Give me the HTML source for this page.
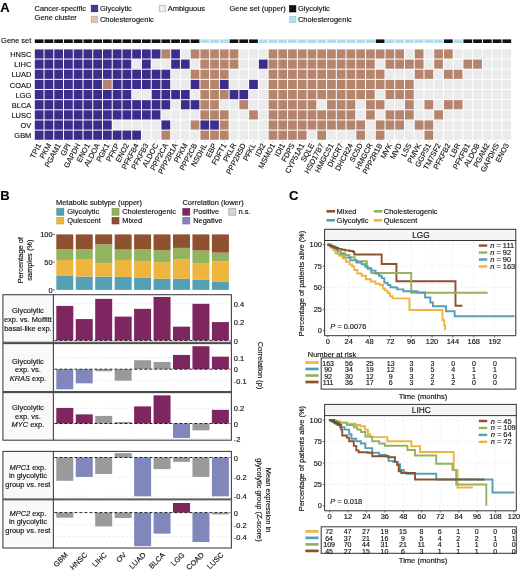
<!DOCTYPE html>
<html><head><meta charset="utf-8"><title>Figure</title>
<style>
html,body{margin:0;padding:0;background:#fff;width:520px;height:571px;overflow:hidden;}
svg{display:block;font-family:"Liberation Sans", sans-serif;will-change:transform;}
text{stroke:currentColor;stroke-width:0.15px;}
</style></head><body>
<svg width="520" height="571" viewBox="0 0 520 571" font-size="7.45" fill="#1a1a1a">
<rect width="520" height="571" fill="#fff"/>
<text x="0.20" y="11.50" font-size="13" font-weight="bold" fill="#000">A</text>
<text x="34.60" y="11.00">Cancer-specific</text>
<text x="34.60" y="20.00">Gene cluster</text>
<rect x="91.30" y="5.30" width="6.40" height="6.40" fill="#463a98" stroke="#2c2278" stroke-width="0.8"/>
<text x="100.00" y="10.90">Glycolytic</text>
<rect x="91.30" y="16.30" width="6.40" height="6.40" fill="#dec3b7" stroke="#c8a898" stroke-width="0.8"/>
<text x="100.00" y="21.90">Cholesterogenic</text>
<rect x="159.20" y="5.30" width="6.40" height="6.40" fill="#eeeeee" stroke="#b8b8b8" stroke-width="0.8"/>
<text x="167.80" y="10.90">Ambiguous</text>
<text x="229.50" y="10.90">Gene set (upper)</text>
<rect x="289.50" y="5.60" width="6.40" height="6.40" fill="#111111" stroke="#000" stroke-width="0.6"/>
<text x="298.00" y="10.90">Glycolytic</text>
<rect x="289.50" y="16.30" width="6.40" height="6.40" fill="#b4e0ee" stroke="#8cc8dc" stroke-width="0.6"/>
<text x="298.00" y="21.90">Cholesterogenic</text>
<text x="31.30" y="43.40" text-anchor="end">Gene set</text>
<rect x="34.80" y="39.40" width="8.74" height="3.60" fill="#111111"/>
<rect x="44.54" y="39.40" width="8.74" height="3.60" fill="#111111"/>
<rect x="54.28" y="39.40" width="8.74" height="3.60" fill="#111111"/>
<rect x="64.03" y="39.40" width="8.74" height="3.60" fill="#111111"/>
<rect x="73.77" y="39.40" width="8.74" height="3.60" fill="#111111"/>
<rect x="83.51" y="39.40" width="8.74" height="3.60" fill="#111111"/>
<rect x="93.25" y="39.40" width="8.74" height="3.60" fill="#111111"/>
<rect x="102.99" y="39.40" width="8.74" height="3.60" fill="#111111"/>
<rect x="112.74" y="39.40" width="8.74" height="3.60" fill="#111111"/>
<rect x="122.48" y="39.40" width="8.74" height="3.60" fill="#111111"/>
<rect x="132.22" y="39.40" width="8.74" height="3.60" fill="#111111"/>
<rect x="141.96" y="39.40" width="8.74" height="3.60" fill="#111111"/>
<rect x="151.70" y="39.40" width="8.74" height="3.60" fill="#111111"/>
<rect x="161.45" y="39.40" width="8.74" height="3.60" fill="#111111"/>
<rect x="171.19" y="39.40" width="8.74" height="3.60" fill="#111111"/>
<rect x="180.93" y="39.40" width="8.74" height="3.60" fill="#111111"/>
<rect x="190.67" y="39.40" width="8.74" height="3.60" fill="#111111"/>
<rect x="200.41" y="39.40" width="8.74" height="3.60" fill="#b0dcec"/>
<rect x="210.16" y="39.40" width="8.74" height="3.60" fill="#b0dcec"/>
<rect x="219.90" y="39.40" width="8.74" height="3.60" fill="#b0dcec"/>
<rect x="229.64" y="39.40" width="8.74" height="3.60" fill="#111111"/>
<rect x="239.38" y="39.40" width="8.74" height="3.60" fill="#111111"/>
<rect x="249.12" y="39.40" width="8.74" height="3.60" fill="#111111"/>
<rect x="258.87" y="39.40" width="8.74" height="3.60" fill="#b0dcec"/>
<rect x="268.61" y="39.40" width="8.74" height="3.60" fill="#b0dcec"/>
<rect x="278.35" y="39.40" width="8.74" height="3.60" fill="#b0dcec"/>
<rect x="288.09" y="39.40" width="8.74" height="3.60" fill="#b0dcec"/>
<rect x="297.83" y="39.40" width="8.74" height="3.60" fill="#b0dcec"/>
<rect x="307.58" y="39.40" width="8.74" height="3.60" fill="#b0dcec"/>
<rect x="317.32" y="39.40" width="8.74" height="3.60" fill="#b0dcec"/>
<rect x="327.06" y="39.40" width="8.74" height="3.60" fill="#b0dcec"/>
<rect x="336.80" y="39.40" width="8.74" height="3.60" fill="#b0dcec"/>
<rect x="346.54" y="39.40" width="8.74" height="3.60" fill="#b0dcec"/>
<rect x="356.29" y="39.40" width="8.74" height="3.60" fill="#b0dcec"/>
<rect x="366.03" y="39.40" width="8.74" height="3.60" fill="#b0dcec"/>
<rect x="375.77" y="39.40" width="8.74" height="3.60" fill="#111111"/>
<rect x="385.51" y="39.40" width="8.74" height="3.60" fill="#b0dcec"/>
<rect x="395.25" y="39.40" width="8.74" height="3.60" fill="#b0dcec"/>
<rect x="405.00" y="39.40" width="8.74" height="3.60" fill="#b0dcec"/>
<rect x="414.74" y="39.40" width="8.74" height="3.60" fill="#b0dcec"/>
<rect x="424.48" y="39.40" width="8.74" height="3.60" fill="#b0dcec"/>
<rect x="434.22" y="39.40" width="8.74" height="3.60" fill="#b0dcec"/>
<rect x="443.96" y="39.40" width="8.74" height="3.60" fill="#111111"/>
<rect x="453.71" y="39.40" width="8.74" height="3.60" fill="#b0dcec"/>
<rect x="463.45" y="39.40" width="8.74" height="3.60" fill="#111111"/>
<rect x="473.19" y="39.40" width="8.74" height="3.60" fill="#111111"/>
<rect x="482.93" y="39.40" width="8.74" height="3.60" fill="#111111"/>
<rect x="492.67" y="39.40" width="8.74" height="3.60" fill="#111111"/>
<rect x="502.42" y="39.40" width="8.74" height="3.60" fill="#111111"/>
<text x="31.30" y="57.10" text-anchor="end">HNSC</text>
<rect x="34.80" y="49.40" width="8.74" height="9.15" fill="#3a2d8c"/>
<rect x="44.54" y="49.40" width="8.74" height="9.15" fill="#3a2d8c"/>
<rect x="54.28" y="49.40" width="8.74" height="9.15" fill="#3a2d8c"/>
<rect x="64.03" y="49.40" width="8.74" height="9.15" fill="#3a2d8c"/>
<rect x="73.77" y="49.40" width="8.74" height="9.15" fill="#3a2d8c"/>
<rect x="83.51" y="49.40" width="8.74" height="9.15" fill="#3a2d8c"/>
<rect x="93.25" y="49.40" width="8.74" height="9.15" fill="#3a2d8c"/>
<rect x="102.99" y="49.40" width="8.74" height="9.15" fill="#3a2d8c"/>
<rect x="112.74" y="49.40" width="8.74" height="9.15" fill="#3a2d8c"/>
<rect x="122.48" y="49.40" width="8.74" height="9.15" fill="#3a2d8c"/>
<rect x="132.22" y="49.40" width="8.74" height="9.15" fill="#3a2d8c"/>
<rect x="141.96" y="49.40" width="8.74" height="9.15" fill="#3a2d8c"/>
<rect x="151.70" y="49.40" width="8.74" height="9.15" fill="#3a2d8c"/>
<rect x="161.45" y="49.40" width="8.74" height="9.15" fill="#b5846d"/>
<rect x="171.19" y="49.40" width="8.74" height="9.15" fill="#3a2d8c"/>
<rect x="180.93" y="49.40" width="8.74" height="9.15" fill="#ebebeb"/>
<rect x="190.67" y="49.40" width="8.74" height="9.15" fill="#b5846d"/>
<rect x="200.41" y="49.40" width="8.74" height="9.15" fill="#b5846d"/>
<rect x="210.16" y="49.40" width="8.74" height="9.15" fill="#b5846d"/>
<rect x="219.90" y="49.40" width="8.74" height="9.15" fill="#b5846d"/>
<rect x="229.64" y="49.40" width="8.74" height="9.15" fill="#b5846d"/>
<rect x="239.38" y="49.40" width="8.74" height="9.15" fill="#ebebeb"/>
<rect x="249.12" y="49.40" width="8.74" height="9.15" fill="#ebebeb"/>
<rect x="258.87" y="49.40" width="8.74" height="9.15" fill="#ebebeb"/>
<rect x="268.61" y="49.40" width="8.74" height="9.15" fill="#b5846d"/>
<rect x="278.35" y="49.40" width="8.74" height="9.15" fill="#b5846d"/>
<rect x="288.09" y="49.40" width="8.74" height="9.15" fill="#b5846d"/>
<rect x="297.83" y="49.40" width="8.74" height="9.15" fill="#b5846d"/>
<rect x="307.58" y="49.40" width="8.74" height="9.15" fill="#b5846d"/>
<rect x="317.32" y="49.40" width="8.74" height="9.15" fill="#b5846d"/>
<rect x="327.06" y="49.40" width="8.74" height="9.15" fill="#b5846d"/>
<rect x="336.80" y="49.40" width="8.74" height="9.15" fill="#b5846d"/>
<rect x="346.54" y="49.40" width="8.74" height="9.15" fill="#b5846d"/>
<rect x="356.29" y="49.40" width="8.74" height="9.15" fill="#b5846d"/>
<rect x="366.03" y="49.40" width="8.74" height="9.15" fill="#b5846d"/>
<rect x="375.77" y="49.40" width="8.74" height="9.15" fill="#b5846d"/>
<rect x="385.51" y="49.40" width="8.74" height="9.15" fill="#b5846d"/>
<rect x="395.25" y="49.40" width="8.74" height="9.15" fill="#b5846d"/>
<rect x="405.00" y="49.40" width="8.74" height="9.15" fill="#ebebeb"/>
<rect x="414.74" y="49.40" width="8.74" height="9.15" fill="#b5846d"/>
<rect x="424.48" y="49.40" width="8.74" height="9.15" fill="#ebebeb"/>
<rect x="434.22" y="49.40" width="8.74" height="9.15" fill="#b5846d"/>
<rect x="443.96" y="49.40" width="8.74" height="9.15" fill="#b5846d"/>
<rect x="453.71" y="49.40" width="8.74" height="9.15" fill="#ebebeb"/>
<rect x="463.45" y="49.40" width="8.74" height="9.15" fill="#ebebeb"/>
<rect x="473.19" y="49.40" width="8.74" height="9.15" fill="#ebebeb"/>
<rect x="482.93" y="49.40" width="8.74" height="9.15" fill="#ebebeb"/>
<rect x="492.67" y="49.40" width="8.74" height="9.15" fill="#ebebeb"/>
<rect x="502.42" y="49.40" width="8.74" height="9.15" fill="#ebebeb"/>
<text x="31.30" y="67.25" text-anchor="end">LIHC</text>
<rect x="34.80" y="59.55" width="8.74" height="9.15" fill="#3a2d8c"/>
<rect x="44.54" y="59.55" width="8.74" height="9.15" fill="#3a2d8c"/>
<rect x="54.28" y="59.55" width="8.74" height="9.15" fill="#3a2d8c"/>
<rect x="64.03" y="59.55" width="8.74" height="9.15" fill="#3a2d8c"/>
<rect x="73.77" y="59.55" width="8.74" height="9.15" fill="#3a2d8c"/>
<rect x="83.51" y="59.55" width="8.74" height="9.15" fill="#3a2d8c"/>
<rect x="93.25" y="59.55" width="8.74" height="9.15" fill="#3a2d8c"/>
<rect x="102.99" y="59.55" width="8.74" height="9.15" fill="#3a2d8c"/>
<rect x="112.74" y="59.55" width="8.74" height="9.15" fill="#3a2d8c"/>
<rect x="122.48" y="59.55" width="8.74" height="9.15" fill="#3a2d8c"/>
<rect x="132.22" y="59.55" width="8.74" height="9.15" fill="#ebebeb"/>
<rect x="141.96" y="59.55" width="8.74" height="9.15" fill="#3a2d8c"/>
<rect x="151.70" y="59.55" width="8.74" height="9.15" fill="#ebebeb"/>
<rect x="161.45" y="59.55" width="8.74" height="9.15" fill="#ebebeb"/>
<rect x="171.19" y="59.55" width="8.74" height="9.15" fill="#3a2d8c"/>
<rect x="180.93" y="59.55" width="8.74" height="9.15" fill="#3a2d8c"/>
<rect x="190.67" y="59.55" width="8.74" height="9.15" fill="#ebebeb"/>
<rect x="200.41" y="59.55" width="8.74" height="9.15" fill="#b5846d"/>
<rect x="210.16" y="59.55" width="8.74" height="9.15" fill="#b5846d"/>
<rect x="219.90" y="59.55" width="8.74" height="9.15" fill="#b5846d"/>
<rect x="229.64" y="59.55" width="8.74" height="9.15" fill="#b5846d"/>
<rect x="239.38" y="59.55" width="8.74" height="9.15" fill="#ebebeb"/>
<rect x="249.12" y="59.55" width="8.74" height="9.15" fill="#ebebeb"/>
<rect x="258.87" y="59.55" width="8.74" height="9.15" fill="#3a2d8c"/>
<rect x="268.61" y="59.55" width="8.74" height="9.15" fill="#b5846d"/>
<rect x="278.35" y="59.55" width="8.74" height="9.15" fill="#b5846d"/>
<rect x="288.09" y="59.55" width="8.74" height="9.15" fill="#b5846d"/>
<rect x="297.83" y="59.55" width="8.74" height="9.15" fill="#b5846d"/>
<rect x="307.58" y="59.55" width="8.74" height="9.15" fill="#b5846d"/>
<rect x="317.32" y="59.55" width="8.74" height="9.15" fill="#b5846d"/>
<rect x="327.06" y="59.55" width="8.74" height="9.15" fill="#b5846d"/>
<rect x="336.80" y="59.55" width="8.74" height="9.15" fill="#b5846d"/>
<rect x="346.54" y="59.55" width="8.74" height="9.15" fill="#b5846d"/>
<rect x="356.29" y="59.55" width="8.74" height="9.15" fill="#b5846d"/>
<rect x="366.03" y="59.55" width="8.74" height="9.15" fill="#b5846d"/>
<rect x="375.77" y="59.55" width="8.74" height="9.15" fill="#ebebeb"/>
<rect x="385.51" y="59.55" width="8.74" height="9.15" fill="#b5846d"/>
<rect x="395.25" y="59.55" width="8.74" height="9.15" fill="#b5846d"/>
<rect x="405.00" y="59.55" width="8.74" height="9.15" fill="#b5846d"/>
<rect x="414.74" y="59.55" width="8.74" height="9.15" fill="#b5846d"/>
<rect x="424.48" y="59.55" width="8.74" height="9.15" fill="#ebebeb"/>
<rect x="434.22" y="59.55" width="8.74" height="9.15" fill="#b5846d"/>
<rect x="443.96" y="59.55" width="8.74" height="9.15" fill="#ebebeb"/>
<rect x="453.71" y="59.55" width="8.74" height="9.15" fill="#ebebeb"/>
<rect x="463.45" y="59.55" width="8.74" height="9.15" fill="#b5846d"/>
<rect x="473.19" y="59.55" width="8.74" height="9.15" fill="#b5846d"/>
<rect x="482.93" y="59.55" width="8.74" height="9.15" fill="#ebebeb"/>
<rect x="492.67" y="59.55" width="8.74" height="9.15" fill="#ebebeb"/>
<rect x="502.42" y="59.55" width="8.74" height="9.15" fill="#ebebeb"/>
<text x="31.30" y="77.40" text-anchor="end">LUAD</text>
<rect x="34.80" y="69.70" width="8.74" height="9.15" fill="#3a2d8c"/>
<rect x="44.54" y="69.70" width="8.74" height="9.15" fill="#3a2d8c"/>
<rect x="54.28" y="69.70" width="8.74" height="9.15" fill="#3a2d8c"/>
<rect x="64.03" y="69.70" width="8.74" height="9.15" fill="#3a2d8c"/>
<rect x="73.77" y="69.70" width="8.74" height="9.15" fill="#3a2d8c"/>
<rect x="83.51" y="69.70" width="8.74" height="9.15" fill="#3a2d8c"/>
<rect x="93.25" y="69.70" width="8.74" height="9.15" fill="#3a2d8c"/>
<rect x="102.99" y="69.70" width="8.74" height="9.15" fill="#3a2d8c"/>
<rect x="112.74" y="69.70" width="8.74" height="9.15" fill="#3a2d8c"/>
<rect x="122.48" y="69.70" width="8.74" height="9.15" fill="#3a2d8c"/>
<rect x="132.22" y="69.70" width="8.74" height="9.15" fill="#3a2d8c"/>
<rect x="141.96" y="69.70" width="8.74" height="9.15" fill="#3a2d8c"/>
<rect x="151.70" y="69.70" width="8.74" height="9.15" fill="#3a2d8c"/>
<rect x="161.45" y="69.70" width="8.74" height="9.15" fill="#3a2d8c"/>
<rect x="171.19" y="69.70" width="8.74" height="9.15" fill="#ebebeb"/>
<rect x="180.93" y="69.70" width="8.74" height="9.15" fill="#ebebeb"/>
<rect x="190.67" y="69.70" width="8.74" height="9.15" fill="#b5846d"/>
<rect x="200.41" y="69.70" width="8.74" height="9.15" fill="#b5846d"/>
<rect x="210.16" y="69.70" width="8.74" height="9.15" fill="#b5846d"/>
<rect x="219.90" y="69.70" width="8.74" height="9.15" fill="#b5846d"/>
<rect x="229.64" y="69.70" width="8.74" height="9.15" fill="#ebebeb"/>
<rect x="239.38" y="69.70" width="8.74" height="9.15" fill="#ebebeb"/>
<rect x="249.12" y="69.70" width="8.74" height="9.15" fill="#ebebeb"/>
<rect x="258.87" y="69.70" width="8.74" height="9.15" fill="#ebebeb"/>
<rect x="268.61" y="69.70" width="8.74" height="9.15" fill="#b5846d"/>
<rect x="278.35" y="69.70" width="8.74" height="9.15" fill="#b5846d"/>
<rect x="288.09" y="69.70" width="8.74" height="9.15" fill="#b5846d"/>
<rect x="297.83" y="69.70" width="8.74" height="9.15" fill="#b5846d"/>
<rect x="307.58" y="69.70" width="8.74" height="9.15" fill="#b5846d"/>
<rect x="317.32" y="69.70" width="8.74" height="9.15" fill="#b5846d"/>
<rect x="327.06" y="69.70" width="8.74" height="9.15" fill="#b5846d"/>
<rect x="336.80" y="69.70" width="8.74" height="9.15" fill="#b5846d"/>
<rect x="346.54" y="69.70" width="8.74" height="9.15" fill="#b5846d"/>
<rect x="356.29" y="69.70" width="8.74" height="9.15" fill="#b5846d"/>
<rect x="366.03" y="69.70" width="8.74" height="9.15" fill="#b5846d"/>
<rect x="375.77" y="69.70" width="8.74" height="9.15" fill="#b5846d"/>
<rect x="385.51" y="69.70" width="8.74" height="9.15" fill="#ebebeb"/>
<rect x="395.25" y="69.70" width="8.74" height="9.15" fill="#ebebeb"/>
<rect x="405.00" y="69.70" width="8.74" height="9.15" fill="#ebebeb"/>
<rect x="414.74" y="69.70" width="8.74" height="9.15" fill="#b5846d"/>
<rect x="424.48" y="69.70" width="8.74" height="9.15" fill="#b5846d"/>
<rect x="434.22" y="69.70" width="8.74" height="9.15" fill="#ebebeb"/>
<rect x="443.96" y="69.70" width="8.74" height="9.15" fill="#b5846d"/>
<rect x="453.71" y="69.70" width="8.74" height="9.15" fill="#b5846d"/>
<rect x="463.45" y="69.70" width="8.74" height="9.15" fill="#ebebeb"/>
<rect x="473.19" y="69.70" width="8.74" height="9.15" fill="#ebebeb"/>
<rect x="482.93" y="69.70" width="8.74" height="9.15" fill="#ebebeb"/>
<rect x="492.67" y="69.70" width="8.74" height="9.15" fill="#ebebeb"/>
<rect x="502.42" y="69.70" width="8.74" height="9.15" fill="#ebebeb"/>
<text x="31.30" y="87.55" text-anchor="end">COAD</text>
<rect x="34.80" y="79.85" width="8.74" height="9.15" fill="#3a2d8c"/>
<rect x="44.54" y="79.85" width="8.74" height="9.15" fill="#3a2d8c"/>
<rect x="54.28" y="79.85" width="8.74" height="9.15" fill="#3a2d8c"/>
<rect x="64.03" y="79.85" width="8.74" height="9.15" fill="#3a2d8c"/>
<rect x="73.77" y="79.85" width="8.74" height="9.15" fill="#3a2d8c"/>
<rect x="83.51" y="79.85" width="8.74" height="9.15" fill="#3a2d8c"/>
<rect x="93.25" y="79.85" width="8.74" height="9.15" fill="#3a2d8c"/>
<rect x="102.99" y="79.85" width="8.74" height="9.15" fill="#b5846d"/>
<rect x="112.74" y="79.85" width="8.74" height="9.15" fill="#3a2d8c"/>
<rect x="122.48" y="79.85" width="8.74" height="9.15" fill="#3a2d8c"/>
<rect x="132.22" y="79.85" width="8.74" height="9.15" fill="#3a2d8c"/>
<rect x="141.96" y="79.85" width="8.74" height="9.15" fill="#3a2d8c"/>
<rect x="151.70" y="79.85" width="8.74" height="9.15" fill="#3a2d8c"/>
<rect x="161.45" y="79.85" width="8.74" height="9.15" fill="#3a2d8c"/>
<rect x="171.19" y="79.85" width="8.74" height="9.15" fill="#ebebeb"/>
<rect x="180.93" y="79.85" width="8.74" height="9.15" fill="#ebebeb"/>
<rect x="190.67" y="79.85" width="8.74" height="9.15" fill="#3a2d8c"/>
<rect x="200.41" y="79.85" width="8.74" height="9.15" fill="#b5846d"/>
<rect x="210.16" y="79.85" width="8.74" height="9.15" fill="#b5846d"/>
<rect x="219.90" y="79.85" width="8.74" height="9.15" fill="#3a2d8c"/>
<rect x="229.64" y="79.85" width="8.74" height="9.15" fill="#ebebeb"/>
<rect x="239.38" y="79.85" width="8.74" height="9.15" fill="#ebebeb"/>
<rect x="249.12" y="79.85" width="8.74" height="9.15" fill="#3a2d8c"/>
<rect x="258.87" y="79.85" width="8.74" height="9.15" fill="#ebebeb"/>
<rect x="268.61" y="79.85" width="8.74" height="9.15" fill="#b5846d"/>
<rect x="278.35" y="79.85" width="8.74" height="9.15" fill="#b5846d"/>
<rect x="288.09" y="79.85" width="8.74" height="9.15" fill="#b5846d"/>
<rect x="297.83" y="79.85" width="8.74" height="9.15" fill="#b5846d"/>
<rect x="307.58" y="79.85" width="8.74" height="9.15" fill="#b5846d"/>
<rect x="317.32" y="79.85" width="8.74" height="9.15" fill="#b5846d"/>
<rect x="327.06" y="79.85" width="8.74" height="9.15" fill="#b5846d"/>
<rect x="336.80" y="79.85" width="8.74" height="9.15" fill="#b5846d"/>
<rect x="346.54" y="79.85" width="8.74" height="9.15" fill="#b5846d"/>
<rect x="356.29" y="79.85" width="8.74" height="9.15" fill="#b5846d"/>
<rect x="366.03" y="79.85" width="8.74" height="9.15" fill="#b5846d"/>
<rect x="375.77" y="79.85" width="8.74" height="9.15" fill="#b5846d"/>
<rect x="385.51" y="79.85" width="8.74" height="9.15" fill="#b5846d"/>
<rect x="395.25" y="79.85" width="8.74" height="9.15" fill="#b5846d"/>
<rect x="405.00" y="79.85" width="8.74" height="9.15" fill="#b5846d"/>
<rect x="414.74" y="79.85" width="8.74" height="9.15" fill="#ebebeb"/>
<rect x="424.48" y="79.85" width="8.74" height="9.15" fill="#ebebeb"/>
<rect x="434.22" y="79.85" width="8.74" height="9.15" fill="#ebebeb"/>
<rect x="443.96" y="79.85" width="8.74" height="9.15" fill="#ebebeb"/>
<rect x="453.71" y="79.85" width="8.74" height="9.15" fill="#ebebeb"/>
<rect x="463.45" y="79.85" width="8.74" height="9.15" fill="#ebebeb"/>
<rect x="473.19" y="79.85" width="8.74" height="9.15" fill="#ebebeb"/>
<rect x="482.93" y="79.85" width="8.74" height="9.15" fill="#ebebeb"/>
<rect x="492.67" y="79.85" width="8.74" height="9.15" fill="#ebebeb"/>
<rect x="502.42" y="79.85" width="8.74" height="9.15" fill="#ebebeb"/>
<text x="31.30" y="97.70" text-anchor="end">LGG</text>
<rect x="34.80" y="90.00" width="8.74" height="9.15" fill="#3a2d8c"/>
<rect x="44.54" y="90.00" width="8.74" height="9.15" fill="#3a2d8c"/>
<rect x="54.28" y="90.00" width="8.74" height="9.15" fill="#3a2d8c"/>
<rect x="64.03" y="90.00" width="8.74" height="9.15" fill="#3a2d8c"/>
<rect x="73.77" y="90.00" width="8.74" height="9.15" fill="#3a2d8c"/>
<rect x="83.51" y="90.00" width="8.74" height="9.15" fill="#3a2d8c"/>
<rect x="93.25" y="90.00" width="8.74" height="9.15" fill="#3a2d8c"/>
<rect x="102.99" y="90.00" width="8.74" height="9.15" fill="#3a2d8c"/>
<rect x="112.74" y="90.00" width="8.74" height="9.15" fill="#3a2d8c"/>
<rect x="122.48" y="90.00" width="8.74" height="9.15" fill="#3a2d8c"/>
<rect x="132.22" y="90.00" width="8.74" height="9.15" fill="#ebebeb"/>
<rect x="141.96" y="90.00" width="8.74" height="9.15" fill="#ebebeb"/>
<rect x="151.70" y="90.00" width="8.74" height="9.15" fill="#3a2d8c"/>
<rect x="161.45" y="90.00" width="8.74" height="9.15" fill="#3a2d8c"/>
<rect x="171.19" y="90.00" width="8.74" height="9.15" fill="#3a2d8c"/>
<rect x="180.93" y="90.00" width="8.74" height="9.15" fill="#3a2d8c"/>
<rect x="190.67" y="90.00" width="8.74" height="9.15" fill="#ebebeb"/>
<rect x="200.41" y="90.00" width="8.74" height="9.15" fill="#b5846d"/>
<rect x="210.16" y="90.00" width="8.74" height="9.15" fill="#b5846d"/>
<rect x="219.90" y="90.00" width="8.74" height="9.15" fill="#b5846d"/>
<rect x="229.64" y="90.00" width="8.74" height="9.15" fill="#3a2d8c"/>
<rect x="239.38" y="90.00" width="8.74" height="9.15" fill="#3a2d8c"/>
<rect x="249.12" y="90.00" width="8.74" height="9.15" fill="#ebebeb"/>
<rect x="258.87" y="90.00" width="8.74" height="9.15" fill="#ebebeb"/>
<rect x="268.61" y="90.00" width="8.74" height="9.15" fill="#b5846d"/>
<rect x="278.35" y="90.00" width="8.74" height="9.15" fill="#b5846d"/>
<rect x="288.09" y="90.00" width="8.74" height="9.15" fill="#b5846d"/>
<rect x="297.83" y="90.00" width="8.74" height="9.15" fill="#b5846d"/>
<rect x="307.58" y="90.00" width="8.74" height="9.15" fill="#b5846d"/>
<rect x="317.32" y="90.00" width="8.74" height="9.15" fill="#b5846d"/>
<rect x="327.06" y="90.00" width="8.74" height="9.15" fill="#b5846d"/>
<rect x="336.80" y="90.00" width="8.74" height="9.15" fill="#b5846d"/>
<rect x="346.54" y="90.00" width="8.74" height="9.15" fill="#b5846d"/>
<rect x="356.29" y="90.00" width="8.74" height="9.15" fill="#b5846d"/>
<rect x="366.03" y="90.00" width="8.74" height="9.15" fill="#b5846d"/>
<rect x="375.77" y="90.00" width="8.74" height="9.15" fill="#ebebeb"/>
<rect x="385.51" y="90.00" width="8.74" height="9.15" fill="#b5846d"/>
<rect x="395.25" y="90.00" width="8.74" height="9.15" fill="#b5846d"/>
<rect x="405.00" y="90.00" width="8.74" height="9.15" fill="#b5846d"/>
<rect x="414.74" y="90.00" width="8.74" height="9.15" fill="#ebebeb"/>
<rect x="424.48" y="90.00" width="8.74" height="9.15" fill="#ebebeb"/>
<rect x="434.22" y="90.00" width="8.74" height="9.15" fill="#ebebeb"/>
<rect x="443.96" y="90.00" width="8.74" height="9.15" fill="#ebebeb"/>
<rect x="453.71" y="90.00" width="8.74" height="9.15" fill="#ebebeb"/>
<rect x="463.45" y="90.00" width="8.74" height="9.15" fill="#ebebeb"/>
<rect x="473.19" y="90.00" width="8.74" height="9.15" fill="#ebebeb"/>
<rect x="482.93" y="90.00" width="8.74" height="9.15" fill="#ebebeb"/>
<rect x="492.67" y="90.00" width="8.74" height="9.15" fill="#ebebeb"/>
<rect x="502.42" y="90.00" width="8.74" height="9.15" fill="#ebebeb"/>
<text x="31.30" y="107.85" text-anchor="end">BLCA</text>
<rect x="34.80" y="100.15" width="8.74" height="9.15" fill="#3a2d8c"/>
<rect x="44.54" y="100.15" width="8.74" height="9.15" fill="#3a2d8c"/>
<rect x="54.28" y="100.15" width="8.74" height="9.15" fill="#3a2d8c"/>
<rect x="64.03" y="100.15" width="8.74" height="9.15" fill="#3a2d8c"/>
<rect x="73.77" y="100.15" width="8.74" height="9.15" fill="#3a2d8c"/>
<rect x="83.51" y="100.15" width="8.74" height="9.15" fill="#3a2d8c"/>
<rect x="93.25" y="100.15" width="8.74" height="9.15" fill="#3a2d8c"/>
<rect x="102.99" y="100.15" width="8.74" height="9.15" fill="#3a2d8c"/>
<rect x="112.74" y="100.15" width="8.74" height="9.15" fill="#3a2d8c"/>
<rect x="122.48" y="100.15" width="8.74" height="9.15" fill="#3a2d8c"/>
<rect x="132.22" y="100.15" width="8.74" height="9.15" fill="#3a2d8c"/>
<rect x="141.96" y="100.15" width="8.74" height="9.15" fill="#3a2d8c"/>
<rect x="151.70" y="100.15" width="8.74" height="9.15" fill="#3a2d8c"/>
<rect x="161.45" y="100.15" width="8.74" height="9.15" fill="#3a2d8c"/>
<rect x="171.19" y="100.15" width="8.74" height="9.15" fill="#ebebeb"/>
<rect x="180.93" y="100.15" width="8.74" height="9.15" fill="#3a2d8c"/>
<rect x="190.67" y="100.15" width="8.74" height="9.15" fill="#3a2d8c"/>
<rect x="200.41" y="100.15" width="8.74" height="9.15" fill="#b5846d"/>
<rect x="210.16" y="100.15" width="8.74" height="9.15" fill="#b5846d"/>
<rect x="219.90" y="100.15" width="8.74" height="9.15" fill="#ebebeb"/>
<rect x="229.64" y="100.15" width="8.74" height="9.15" fill="#ebebeb"/>
<rect x="239.38" y="100.15" width="8.74" height="9.15" fill="#b5846d"/>
<rect x="249.12" y="100.15" width="8.74" height="9.15" fill="#ebebeb"/>
<rect x="258.87" y="100.15" width="8.74" height="9.15" fill="#ebebeb"/>
<rect x="268.61" y="100.15" width="8.74" height="9.15" fill="#b5846d"/>
<rect x="278.35" y="100.15" width="8.74" height="9.15" fill="#b5846d"/>
<rect x="288.09" y="100.15" width="8.74" height="9.15" fill="#b5846d"/>
<rect x="297.83" y="100.15" width="8.74" height="9.15" fill="#b5846d"/>
<rect x="307.58" y="100.15" width="8.74" height="9.15" fill="#b5846d"/>
<rect x="317.32" y="100.15" width="8.74" height="9.15" fill="#ebebeb"/>
<rect x="327.06" y="100.15" width="8.74" height="9.15" fill="#b5846d"/>
<rect x="336.80" y="100.15" width="8.74" height="9.15" fill="#b5846d"/>
<rect x="346.54" y="100.15" width="8.74" height="9.15" fill="#b5846d"/>
<rect x="356.29" y="100.15" width="8.74" height="9.15" fill="#ebebeb"/>
<rect x="366.03" y="100.15" width="8.74" height="9.15" fill="#b5846d"/>
<rect x="375.77" y="100.15" width="8.74" height="9.15" fill="#b5846d"/>
<rect x="385.51" y="100.15" width="8.74" height="9.15" fill="#ebebeb"/>
<rect x="395.25" y="100.15" width="8.74" height="9.15" fill="#ebebeb"/>
<rect x="405.00" y="100.15" width="8.74" height="9.15" fill="#b5846d"/>
<rect x="414.74" y="100.15" width="8.74" height="9.15" fill="#ebebeb"/>
<rect x="424.48" y="100.15" width="8.74" height="9.15" fill="#b5846d"/>
<rect x="434.22" y="100.15" width="8.74" height="9.15" fill="#ebebeb"/>
<rect x="443.96" y="100.15" width="8.74" height="9.15" fill="#b5846d"/>
<rect x="453.71" y="100.15" width="8.74" height="9.15" fill="#b5846d"/>
<rect x="463.45" y="100.15" width="8.74" height="9.15" fill="#ebebeb"/>
<rect x="473.19" y="100.15" width="8.74" height="9.15" fill="#ebebeb"/>
<rect x="482.93" y="100.15" width="8.74" height="9.15" fill="#ebebeb"/>
<rect x="492.67" y="100.15" width="8.74" height="9.15" fill="#ebebeb"/>
<rect x="502.42" y="100.15" width="8.74" height="9.15" fill="#ebebeb"/>
<text x="31.30" y="118.00" text-anchor="end">LUSC</text>
<rect x="34.80" y="110.30" width="8.74" height="9.15" fill="#3a2d8c"/>
<rect x="44.54" y="110.30" width="8.74" height="9.15" fill="#3a2d8c"/>
<rect x="54.28" y="110.30" width="8.74" height="9.15" fill="#3a2d8c"/>
<rect x="64.03" y="110.30" width="8.74" height="9.15" fill="#3a2d8c"/>
<rect x="73.77" y="110.30" width="8.74" height="9.15" fill="#3a2d8c"/>
<rect x="83.51" y="110.30" width="8.74" height="9.15" fill="#3a2d8c"/>
<rect x="93.25" y="110.30" width="8.74" height="9.15" fill="#3a2d8c"/>
<rect x="102.99" y="110.30" width="8.74" height="9.15" fill="#3a2d8c"/>
<rect x="112.74" y="110.30" width="8.74" height="9.15" fill="#3a2d8c"/>
<rect x="122.48" y="110.30" width="8.74" height="9.15" fill="#3a2d8c"/>
<rect x="132.22" y="110.30" width="8.74" height="9.15" fill="#3a2d8c"/>
<rect x="141.96" y="110.30" width="8.74" height="9.15" fill="#3a2d8c"/>
<rect x="151.70" y="110.30" width="8.74" height="9.15" fill="#3a2d8c"/>
<rect x="161.45" y="110.30" width="8.74" height="9.15" fill="#ebebeb"/>
<rect x="171.19" y="110.30" width="8.74" height="9.15" fill="#ebebeb"/>
<rect x="180.93" y="110.30" width="8.74" height="9.15" fill="#ebebeb"/>
<rect x="190.67" y="110.30" width="8.74" height="9.15" fill="#ebebeb"/>
<rect x="200.41" y="110.30" width="8.74" height="9.15" fill="#b5846d"/>
<rect x="210.16" y="110.30" width="8.74" height="9.15" fill="#b5846d"/>
<rect x="219.90" y="110.30" width="8.74" height="9.15" fill="#b5846d"/>
<rect x="229.64" y="110.30" width="8.74" height="9.15" fill="#ebebeb"/>
<rect x="239.38" y="110.30" width="8.74" height="9.15" fill="#ebebeb"/>
<rect x="249.12" y="110.30" width="8.74" height="9.15" fill="#b5846d"/>
<rect x="258.87" y="110.30" width="8.74" height="9.15" fill="#ebebeb"/>
<rect x="268.61" y="110.30" width="8.74" height="9.15" fill="#b5846d"/>
<rect x="278.35" y="110.30" width="8.74" height="9.15" fill="#b5846d"/>
<rect x="288.09" y="110.30" width="8.74" height="9.15" fill="#b5846d"/>
<rect x="297.83" y="110.30" width="8.74" height="9.15" fill="#b5846d"/>
<rect x="307.58" y="110.30" width="8.74" height="9.15" fill="#b5846d"/>
<rect x="317.32" y="110.30" width="8.74" height="9.15" fill="#b5846d"/>
<rect x="327.06" y="110.30" width="8.74" height="9.15" fill="#b5846d"/>
<rect x="336.80" y="110.30" width="8.74" height="9.15" fill="#b5846d"/>
<rect x="346.54" y="110.30" width="8.74" height="9.15" fill="#b5846d"/>
<rect x="356.29" y="110.30" width="8.74" height="9.15" fill="#ebebeb"/>
<rect x="366.03" y="110.30" width="8.74" height="9.15" fill="#b5846d"/>
<rect x="375.77" y="110.30" width="8.74" height="9.15" fill="#ebebeb"/>
<rect x="385.51" y="110.30" width="8.74" height="9.15" fill="#b5846d"/>
<rect x="395.25" y="110.30" width="8.74" height="9.15" fill="#b5846d"/>
<rect x="405.00" y="110.30" width="8.74" height="9.15" fill="#b5846d"/>
<rect x="414.74" y="110.30" width="8.74" height="9.15" fill="#ebebeb"/>
<rect x="424.48" y="110.30" width="8.74" height="9.15" fill="#ebebeb"/>
<rect x="434.22" y="110.30" width="8.74" height="9.15" fill="#b5846d"/>
<rect x="443.96" y="110.30" width="8.74" height="9.15" fill="#ebebeb"/>
<rect x="453.71" y="110.30" width="8.74" height="9.15" fill="#ebebeb"/>
<rect x="463.45" y="110.30" width="8.74" height="9.15" fill="#ebebeb"/>
<rect x="473.19" y="110.30" width="8.74" height="9.15" fill="#ebebeb"/>
<rect x="482.93" y="110.30" width="8.74" height="9.15" fill="#ebebeb"/>
<rect x="492.67" y="110.30" width="8.74" height="9.15" fill="#ebebeb"/>
<rect x="502.42" y="110.30" width="8.74" height="9.15" fill="#ebebeb"/>
<text x="31.30" y="128.15" text-anchor="end">OV</text>
<rect x="34.80" y="120.45" width="8.74" height="9.15" fill="#3a2d8c"/>
<rect x="44.54" y="120.45" width="8.74" height="9.15" fill="#3a2d8c"/>
<rect x="54.28" y="120.45" width="8.74" height="9.15" fill="#3a2d8c"/>
<rect x="64.03" y="120.45" width="8.74" height="9.15" fill="#3a2d8c"/>
<rect x="73.77" y="120.45" width="8.74" height="9.15" fill="#3a2d8c"/>
<rect x="83.51" y="120.45" width="8.74" height="9.15" fill="#3a2d8c"/>
<rect x="93.25" y="120.45" width="8.74" height="9.15" fill="#3a2d8c"/>
<rect x="102.99" y="120.45" width="8.74" height="9.15" fill="#3a2d8c"/>
<rect x="112.74" y="120.45" width="8.74" height="9.15" fill="#ebebeb"/>
<rect x="122.48" y="120.45" width="8.74" height="9.15" fill="#ebebeb"/>
<rect x="132.22" y="120.45" width="8.74" height="9.15" fill="#ebebeb"/>
<rect x="141.96" y="120.45" width="8.74" height="9.15" fill="#ebebeb"/>
<rect x="151.70" y="120.45" width="8.74" height="9.15" fill="#ebebeb"/>
<rect x="161.45" y="120.45" width="8.74" height="9.15" fill="#3a2d8c"/>
<rect x="171.19" y="120.45" width="8.74" height="9.15" fill="#ebebeb"/>
<rect x="180.93" y="120.45" width="8.74" height="9.15" fill="#ebebeb"/>
<rect x="190.67" y="120.45" width="8.74" height="9.15" fill="#b5846d"/>
<rect x="200.41" y="120.45" width="8.74" height="9.15" fill="#3a2d8c"/>
<rect x="210.16" y="120.45" width="8.74" height="9.15" fill="#3a2d8c"/>
<rect x="219.90" y="120.45" width="8.74" height="9.15" fill="#b5846d"/>
<rect x="229.64" y="120.45" width="8.74" height="9.15" fill="#ebebeb"/>
<rect x="239.38" y="120.45" width="8.74" height="9.15" fill="#ebebeb"/>
<rect x="249.12" y="120.45" width="8.74" height="9.15" fill="#ebebeb"/>
<rect x="258.87" y="120.45" width="8.74" height="9.15" fill="#ebebeb"/>
<rect x="268.61" y="120.45" width="8.74" height="9.15" fill="#b5846d"/>
<rect x="278.35" y="120.45" width="8.74" height="9.15" fill="#b5846d"/>
<rect x="288.09" y="120.45" width="8.74" height="9.15" fill="#b5846d"/>
<rect x="297.83" y="120.45" width="8.74" height="9.15" fill="#b5846d"/>
<rect x="307.58" y="120.45" width="8.74" height="9.15" fill="#b5846d"/>
<rect x="317.32" y="120.45" width="8.74" height="9.15" fill="#b5846d"/>
<rect x="327.06" y="120.45" width="8.74" height="9.15" fill="#b5846d"/>
<rect x="336.80" y="120.45" width="8.74" height="9.15" fill="#b5846d"/>
<rect x="346.54" y="120.45" width="8.74" height="9.15" fill="#b5846d"/>
<rect x="356.29" y="120.45" width="8.74" height="9.15" fill="#b5846d"/>
<rect x="366.03" y="120.45" width="8.74" height="9.15" fill="#ebebeb"/>
<rect x="375.77" y="120.45" width="8.74" height="9.15" fill="#b5846d"/>
<rect x="385.51" y="120.45" width="8.74" height="9.15" fill="#b5846d"/>
<rect x="395.25" y="120.45" width="8.74" height="9.15" fill="#b5846d"/>
<rect x="405.00" y="120.45" width="8.74" height="9.15" fill="#ebebeb"/>
<rect x="414.74" y="120.45" width="8.74" height="9.15" fill="#b5846d"/>
<rect x="424.48" y="120.45" width="8.74" height="9.15" fill="#b5846d"/>
<rect x="434.22" y="120.45" width="8.74" height="9.15" fill="#ebebeb"/>
<rect x="443.96" y="120.45" width="8.74" height="9.15" fill="#ebebeb"/>
<rect x="453.71" y="120.45" width="8.74" height="9.15" fill="#ebebeb"/>
<rect x="463.45" y="120.45" width="8.74" height="9.15" fill="#ebebeb"/>
<rect x="473.19" y="120.45" width="8.74" height="9.15" fill="#ebebeb"/>
<rect x="482.93" y="120.45" width="8.74" height="9.15" fill="#ebebeb"/>
<rect x="492.67" y="120.45" width="8.74" height="9.15" fill="#ebebeb"/>
<rect x="502.42" y="120.45" width="8.74" height="9.15" fill="#ebebeb"/>
<text x="31.30" y="138.30" text-anchor="end">GBM</text>
<rect x="34.80" y="130.60" width="8.74" height="9.15" fill="#3a2d8c"/>
<rect x="44.54" y="130.60" width="8.74" height="9.15" fill="#3a2d8c"/>
<rect x="54.28" y="130.60" width="8.74" height="9.15" fill="#3a2d8c"/>
<rect x="64.03" y="130.60" width="8.74" height="9.15" fill="#3a2d8c"/>
<rect x="73.77" y="130.60" width="8.74" height="9.15" fill="#3a2d8c"/>
<rect x="83.51" y="130.60" width="8.74" height="9.15" fill="#3a2d8c"/>
<rect x="93.25" y="130.60" width="8.74" height="9.15" fill="#3a2d8c"/>
<rect x="102.99" y="130.60" width="8.74" height="9.15" fill="#3a2d8c"/>
<rect x="112.74" y="130.60" width="8.74" height="9.15" fill="#3a2d8c"/>
<rect x="122.48" y="130.60" width="8.74" height="9.15" fill="#3a2d8c"/>
<rect x="132.22" y="130.60" width="8.74" height="9.15" fill="#3a2d8c"/>
<rect x="141.96" y="130.60" width="8.74" height="9.15" fill="#ebebeb"/>
<rect x="151.70" y="130.60" width="8.74" height="9.15" fill="#ebebeb"/>
<rect x="161.45" y="130.60" width="8.74" height="9.15" fill="#b5846d"/>
<rect x="171.19" y="130.60" width="8.74" height="9.15" fill="#ebebeb"/>
<rect x="180.93" y="130.60" width="8.74" height="9.15" fill="#ebebeb"/>
<rect x="190.67" y="130.60" width="8.74" height="9.15" fill="#ebebeb"/>
<rect x="200.41" y="130.60" width="8.74" height="9.15" fill="#b5846d"/>
<rect x="210.16" y="130.60" width="8.74" height="9.15" fill="#b5846d"/>
<rect x="219.90" y="130.60" width="8.74" height="9.15" fill="#b5846d"/>
<rect x="229.64" y="130.60" width="8.74" height="9.15" fill="#ebebeb"/>
<rect x="239.38" y="130.60" width="8.74" height="9.15" fill="#ebebeb"/>
<rect x="249.12" y="130.60" width="8.74" height="9.15" fill="#ebebeb"/>
<rect x="258.87" y="130.60" width="8.74" height="9.15" fill="#ebebeb"/>
<rect x="268.61" y="130.60" width="8.74" height="9.15" fill="#b5846d"/>
<rect x="278.35" y="130.60" width="8.74" height="9.15" fill="#b5846d"/>
<rect x="288.09" y="130.60" width="8.74" height="9.15" fill="#b5846d"/>
<rect x="297.83" y="130.60" width="8.74" height="9.15" fill="#b5846d"/>
<rect x="307.58" y="130.60" width="8.74" height="9.15" fill="#ebebeb"/>
<rect x="317.32" y="130.60" width="8.74" height="9.15" fill="#b5846d"/>
<rect x="327.06" y="130.60" width="8.74" height="9.15" fill="#ebebeb"/>
<rect x="336.80" y="130.60" width="8.74" height="9.15" fill="#ebebeb"/>
<rect x="346.54" y="130.60" width="8.74" height="9.15" fill="#ebebeb"/>
<rect x="356.29" y="130.60" width="8.74" height="9.15" fill="#b5846d"/>
<rect x="366.03" y="130.60" width="8.74" height="9.15" fill="#ebebeb"/>
<rect x="375.77" y="130.60" width="8.74" height="9.15" fill="#b5846d"/>
<rect x="385.51" y="130.60" width="8.74" height="9.15" fill="#ebebeb"/>
<rect x="395.25" y="130.60" width="8.74" height="9.15" fill="#ebebeb"/>
<rect x="405.00" y="130.60" width="8.74" height="9.15" fill="#ebebeb"/>
<rect x="414.74" y="130.60" width="8.74" height="9.15" fill="#ebebeb"/>
<rect x="424.48" y="130.60" width="8.74" height="9.15" fill="#b5846d"/>
<rect x="434.22" y="130.60" width="8.74" height="9.15" fill="#ebebeb"/>
<rect x="443.96" y="130.60" width="8.74" height="9.15" fill="#ebebeb"/>
<rect x="453.71" y="130.60" width="8.74" height="9.15" fill="#ebebeb"/>
<rect x="463.45" y="130.60" width="8.74" height="9.15" fill="#ebebeb"/>
<rect x="473.19" y="130.60" width="8.74" height="9.15" fill="#ebebeb"/>
<rect x="482.93" y="130.60" width="8.74" height="9.15" fill="#ebebeb"/>
<rect x="492.67" y="130.60" width="8.74" height="9.15" fill="#ebebeb"/>
<rect x="502.42" y="130.60" width="8.74" height="9.15" fill="#ebebeb"/>
<line x1="39.17" y1="140.90" x2="39.17" y2="142.40" stroke="#999" stroke-width="0.6"/>
<text x="41.57" y="145.10" text-anchor="end" transform="rotate(-62 41.57 145.10)">TPI1</text>
<line x1="48.91" y1="140.90" x2="48.91" y2="142.40" stroke="#999" stroke-width="0.6"/>
<text x="51.31" y="145.10" text-anchor="end" transform="rotate(-62 51.31 145.10)">PKM</text>
<line x1="58.66" y1="140.90" x2="58.66" y2="142.40" stroke="#999" stroke-width="0.6"/>
<text x="61.05" y="145.10" text-anchor="end" transform="rotate(-62 61.05 145.10)">PGAM1</text>
<line x1="68.40" y1="140.90" x2="68.40" y2="142.40" stroke="#999" stroke-width="0.6"/>
<text x="70.80" y="145.10" text-anchor="end" transform="rotate(-62 70.80 145.10)">GPI</text>
<line x1="78.14" y1="140.90" x2="78.14" y2="142.40" stroke="#999" stroke-width="0.6"/>
<text x="80.54" y="145.10" text-anchor="end" transform="rotate(-62 80.54 145.10)">GAPDH</text>
<line x1="87.88" y1="140.90" x2="87.88" y2="142.40" stroke="#999" stroke-width="0.6"/>
<text x="90.28" y="145.10" text-anchor="end" transform="rotate(-62 90.28 145.10)">ENO1</text>
<line x1="97.62" y1="140.90" x2="97.62" y2="142.40" stroke="#999" stroke-width="0.6"/>
<text x="100.02" y="145.10" text-anchor="end" transform="rotate(-62 100.02 145.10)">ALDOA</text>
<line x1="107.36" y1="140.90" x2="107.36" y2="142.40" stroke="#999" stroke-width="0.6"/>
<text x="109.77" y="145.10" text-anchor="end" transform="rotate(-62 109.77 145.10)">PGK1</text>
<line x1="117.11" y1="140.90" x2="117.11" y2="142.40" stroke="#999" stroke-width="0.6"/>
<text x="119.51" y="145.10" text-anchor="end" transform="rotate(-62 119.51 145.10)">PFKP</text>
<line x1="126.85" y1="140.90" x2="126.85" y2="142.40" stroke="#999" stroke-width="0.6"/>
<text x="129.25" y="145.10" text-anchor="end" transform="rotate(-62 129.25 145.10)">ENO2</text>
<line x1="136.59" y1="140.90" x2="136.59" y2="142.40" stroke="#999" stroke-width="0.6"/>
<text x="138.99" y="145.10" text-anchor="end" transform="rotate(-62 138.99 145.10)">PFKFB4</text>
<line x1="146.33" y1="140.90" x2="146.33" y2="142.40" stroke="#999" stroke-width="0.6"/>
<text x="148.73" y="145.10" text-anchor="end" transform="rotate(-62 148.73 145.10)">PFKFB3</text>
<line x1="156.08" y1="140.90" x2="156.08" y2="142.40" stroke="#999" stroke-width="0.6"/>
<text x="158.48" y="145.10" text-anchor="end" transform="rotate(-62 158.48 145.10)">ALDOC</text>
<line x1="165.82" y1="140.90" x2="165.82" y2="142.40" stroke="#999" stroke-width="0.6"/>
<text x="168.22" y="145.10" text-anchor="end" transform="rotate(-62 168.22 145.10)">PPP2CA</text>
<line x1="175.56" y1="140.90" x2="175.56" y2="142.40" stroke="#999" stroke-width="0.6"/>
<text x="177.96" y="145.10" text-anchor="end" transform="rotate(-62 177.96 145.10)">PPP2R1A</text>
<line x1="185.30" y1="140.90" x2="185.30" y2="142.40" stroke="#999" stroke-width="0.6"/>
<text x="187.70" y="145.10" text-anchor="end" transform="rotate(-62 187.70 145.10)">PFKM</text>
<line x1="195.04" y1="140.90" x2="195.04" y2="142.40" stroke="#999" stroke-width="0.6"/>
<text x="197.44" y="145.10" text-anchor="end" transform="rotate(-62 197.44 145.10)">PPP2CB</text>
<line x1="204.78" y1="140.90" x2="204.78" y2="142.40" stroke="#999" stroke-width="0.6"/>
<text x="207.19" y="145.10" text-anchor="end" transform="rotate(-62 207.19 145.10)">NSDHL</text>
<line x1="214.53" y1="140.90" x2="214.53" y2="142.40" stroke="#999" stroke-width="0.6"/>
<text x="216.93" y="145.10" text-anchor="end" transform="rotate(-62 216.93 145.10)">EBP</text>
<line x1="224.27" y1="140.90" x2="224.27" y2="142.40" stroke="#999" stroke-width="0.6"/>
<text x="226.67" y="145.10" text-anchor="end" transform="rotate(-62 226.67 145.10)">FDFT1</text>
<line x1="234.01" y1="140.90" x2="234.01" y2="142.40" stroke="#999" stroke-width="0.6"/>
<text x="236.41" y="145.10" text-anchor="end" transform="rotate(-62 236.41 145.10)">PKLR</text>
<line x1="243.75" y1="140.90" x2="243.75" y2="142.40" stroke="#999" stroke-width="0.6"/>
<text x="246.15" y="145.10" text-anchor="end" transform="rotate(-62 246.15 145.10)">PPP2R5D</text>
<line x1="253.50" y1="140.90" x2="253.50" y2="142.40" stroke="#999" stroke-width="0.6"/>
<text x="255.90" y="145.10" text-anchor="end" transform="rotate(-62 255.90 145.10)">PFKL</text>
<line x1="263.24" y1="140.90" x2="263.24" y2="142.40" stroke="#999" stroke-width="0.6"/>
<text x="265.64" y="145.10" text-anchor="end" transform="rotate(-62 265.64 145.10)">IDI2</text>
<line x1="272.98" y1="140.90" x2="272.98" y2="142.40" stroke="#999" stroke-width="0.6"/>
<text x="275.38" y="145.10" text-anchor="end" transform="rotate(-62 275.38 145.10)">MSMO1</text>
<line x1="282.72" y1="140.90" x2="282.72" y2="142.40" stroke="#999" stroke-width="0.6"/>
<text x="285.12" y="145.10" text-anchor="end" transform="rotate(-62 285.12 145.10)">IDI1</text>
<line x1="292.46" y1="140.90" x2="292.46" y2="142.40" stroke="#999" stroke-width="0.6"/>
<text x="294.86" y="145.10" text-anchor="end" transform="rotate(-62 294.86 145.10)">FDPS</text>
<line x1="302.21" y1="140.90" x2="302.21" y2="142.40" stroke="#999" stroke-width="0.6"/>
<text x="304.61" y="145.10" text-anchor="end" transform="rotate(-62 304.61 145.10)">CYP51A1</text>
<line x1="311.95" y1="140.90" x2="311.95" y2="142.40" stroke="#999" stroke-width="0.6"/>
<text x="314.35" y="145.10" text-anchor="end" transform="rotate(-62 314.35 145.10)">SQLE</text>
<line x1="321.69" y1="140.90" x2="321.69" y2="142.40" stroke="#999" stroke-width="0.6"/>
<text x="324.09" y="145.10" text-anchor="end" transform="rotate(-62 324.09 145.10)">HSD17B7</text>
<line x1="331.43" y1="140.90" x2="331.43" y2="142.40" stroke="#999" stroke-width="0.6"/>
<text x="333.83" y="145.10" text-anchor="end" transform="rotate(-62 333.83 145.10)">HMGCS1</text>
<line x1="341.17" y1="140.90" x2="341.17" y2="142.40" stroke="#999" stroke-width="0.6"/>
<text x="343.57" y="145.10" text-anchor="end" transform="rotate(-62 343.57 145.10)">DHCR7</text>
<line x1="350.92" y1="140.90" x2="350.92" y2="142.40" stroke="#999" stroke-width="0.6"/>
<text x="353.31" y="145.10" text-anchor="end" transform="rotate(-62 353.31 145.10)">DHCR24</text>
<line x1="360.66" y1="140.90" x2="360.66" y2="142.40" stroke="#999" stroke-width="0.6"/>
<text x="363.06" y="145.10" text-anchor="end" transform="rotate(-62 363.06 145.10)">SC5D</text>
<line x1="370.40" y1="140.90" x2="370.40" y2="142.40" stroke="#999" stroke-width="0.6"/>
<text x="372.80" y="145.10" text-anchor="end" transform="rotate(-62 372.80 145.10)">HMGCR</text>
<line x1="380.14" y1="140.90" x2="380.14" y2="142.40" stroke="#999" stroke-width="0.6"/>
<text x="382.54" y="145.10" text-anchor="end" transform="rotate(-62 382.54 145.10)">PPP2R1B</text>
<line x1="389.88" y1="140.90" x2="389.88" y2="142.40" stroke="#999" stroke-width="0.6"/>
<text x="392.28" y="145.10" text-anchor="end" transform="rotate(-62 392.28 145.10)">MVK</text>
<line x1="399.62" y1="140.90" x2="399.62" y2="142.40" stroke="#999" stroke-width="0.6"/>
<text x="402.02" y="145.10" text-anchor="end" transform="rotate(-62 402.02 145.10)">MVD</text>
<line x1="409.37" y1="140.90" x2="409.37" y2="142.40" stroke="#999" stroke-width="0.6"/>
<text x="411.77" y="145.10" text-anchor="end" transform="rotate(-62 411.77 145.10)">LSS</text>
<line x1="419.11" y1="140.90" x2="419.11" y2="142.40" stroke="#999" stroke-width="0.6"/>
<text x="421.51" y="145.10" text-anchor="end" transform="rotate(-62 421.51 145.10)">PMVK</text>
<line x1="428.85" y1="140.90" x2="428.85" y2="142.40" stroke="#999" stroke-width="0.6"/>
<text x="431.25" y="145.10" text-anchor="end" transform="rotate(-62 431.25 145.10)">GGPS1</text>
<line x1="438.59" y1="140.90" x2="438.59" y2="142.40" stroke="#999" stroke-width="0.6"/>
<text x="440.99" y="145.10" text-anchor="end" transform="rotate(-62 440.99 145.10)">TM7SF2</text>
<line x1="448.34" y1="140.90" x2="448.34" y2="142.40" stroke="#999" stroke-width="0.6"/>
<text x="450.74" y="145.10" text-anchor="end" transform="rotate(-62 450.74 145.10)">PFKFB2</text>
<line x1="458.08" y1="140.90" x2="458.08" y2="142.40" stroke="#999" stroke-width="0.6"/>
<text x="460.48" y="145.10" text-anchor="end" transform="rotate(-62 460.48 145.10)">LBR</text>
<line x1="467.82" y1="140.90" x2="467.82" y2="142.40" stroke="#999" stroke-width="0.6"/>
<text x="470.22" y="145.10" text-anchor="end" transform="rotate(-62 470.22 145.10)">PFKFB1</text>
<line x1="477.56" y1="140.90" x2="477.56" y2="142.40" stroke="#999" stroke-width="0.6"/>
<text x="479.96" y="145.10" text-anchor="end" transform="rotate(-62 479.96 145.10)">ALDOB</text>
<line x1="487.30" y1="140.90" x2="487.30" y2="142.40" stroke="#999" stroke-width="0.6"/>
<text x="489.70" y="145.10" text-anchor="end" transform="rotate(-62 489.70 145.10)">PGAM2</text>
<line x1="497.05" y1="140.90" x2="497.05" y2="142.40" stroke="#999" stroke-width="0.6"/>
<text x="499.44" y="145.10" text-anchor="end" transform="rotate(-62 499.44 145.10)">GAPDHS</text>
<line x1="506.79" y1="140.90" x2="506.79" y2="142.40" stroke="#999" stroke-width="0.6"/>
<text x="509.19" y="145.10" text-anchor="end" transform="rotate(-62 509.19 145.10)">ENO3</text>
<text x="0.20" y="199.70" font-size="13" font-weight="bold" fill="#000">B</text>
<text x="56.00" y="205.00">Metabolic subtype (upper)</text>
<rect x="56.80" y="208.60" width="7.00" height="6.60" fill="#56a0b5" stroke="#3d7f92" stroke-width="0.6"/>
<text x="67.30" y="214.40">Glycolytic</text>
<rect x="56.80" y="217.40" width="7.00" height="6.60" fill="#eeb53e" stroke="#c8962a" stroke-width="0.6"/>
<text x="67.30" y="223.30">Quiescent</text>
<rect x="112.00" y="208.60" width="7.00" height="6.60" fill="#94b35e" stroke="#6f8c42" stroke-width="0.6"/>
<text x="122.20" y="214.40">Cholesterogenic</text>
<rect x="112.00" y="217.40" width="7.00" height="6.60" fill="#8e5230" stroke="#6a3a20" stroke-width="0.6"/>
<text x="122.20" y="223.30">Mixed</text>
<text x="182.50" y="205.00">Correlation (lower)</text>
<rect x="182.80" y="208.60" width="7.00" height="6.60" fill="#7e2660" stroke="#5a1844" stroke-width="0.6"/>
<text x="193.20" y="214.40">Positive</text>
<rect x="182.80" y="217.40" width="7.00" height="6.60" fill="#8088bb" stroke="#5f6799" stroke-width="0.6"/>
<text x="193.20" y="223.30">Negative</text>
<rect x="228.80" y="208.60" width="7.00" height="6.60" fill="#d4d4d4" stroke="#999" stroke-width="0.6"/>
<text x="238.60" y="214.40">n.s.</text>
<rect x="56.30" y="275.47" width="17.00" height="14.43" fill="#56a0b5"/>
<rect x="56.30" y="259.93" width="17.00" height="15.54" fill="#eeb53e"/>
<rect x="56.30" y="249.11" width="17.00" height="10.82" fill="#94b35e"/>
<rect x="56.30" y="234.40" width="17.00" height="14.71" fill="#8e5230"/>
<rect x="75.75" y="276.58" width="17.00" height="13.32" fill="#56a0b5"/>
<rect x="75.75" y="259.65" width="17.00" height="16.93" fill="#eeb53e"/>
<rect x="75.75" y="249.22" width="17.00" height="10.43" fill="#94b35e"/>
<rect x="75.75" y="234.40" width="17.00" height="14.82" fill="#8e5230"/>
<rect x="95.20" y="276.58" width="17.00" height="13.32" fill="#56a0b5"/>
<rect x="95.20" y="263.37" width="17.00" height="13.21" fill="#eeb53e"/>
<rect x="95.20" y="244.33" width="17.00" height="19.04" fill="#94b35e"/>
<rect x="95.20" y="234.40" width="17.00" height="9.93" fill="#8e5230"/>
<rect x="114.65" y="276.86" width="17.00" height="13.04" fill="#56a0b5"/>
<rect x="114.65" y="259.93" width="17.00" height="16.93" fill="#eeb53e"/>
<rect x="114.65" y="249.50" width="17.00" height="10.43" fill="#94b35e"/>
<rect x="114.65" y="234.40" width="17.00" height="15.10" fill="#8e5230"/>
<rect x="134.10" y="277.91" width="17.00" height="11.99" fill="#56a0b5"/>
<rect x="134.10" y="261.21" width="17.00" height="16.71" fill="#eeb53e"/>
<rect x="134.10" y="249.11" width="17.00" height="12.10" fill="#94b35e"/>
<rect x="134.10" y="234.40" width="17.00" height="14.71" fill="#8e5230"/>
<rect x="153.55" y="278.80" width="17.00" height="11.10" fill="#56a0b5"/>
<rect x="153.55" y="262.26" width="17.00" height="16.54" fill="#eeb53e"/>
<rect x="153.55" y="250.16" width="17.00" height="12.10" fill="#94b35e"/>
<rect x="153.55" y="234.40" width="17.00" height="15.76" fill="#8e5230"/>
<rect x="173.00" y="278.80" width="17.00" height="11.10" fill="#56a0b5"/>
<rect x="173.00" y="259.37" width="17.00" height="19.42" fill="#eeb53e"/>
<rect x="173.00" y="247.89" width="17.00" height="11.49" fill="#94b35e"/>
<rect x="173.00" y="234.40" width="17.00" height="13.49" fill="#8e5230"/>
<rect x="192.45" y="279.91" width="17.00" height="9.99" fill="#56a0b5"/>
<rect x="192.45" y="263.20" width="17.00" height="16.71" fill="#eeb53e"/>
<rect x="192.45" y="250.50" width="17.00" height="12.71" fill="#94b35e"/>
<rect x="192.45" y="234.40" width="17.00" height="16.09" fill="#8e5230"/>
<rect x="211.90" y="281.52" width="17.00" height="8.38" fill="#56a0b5"/>
<rect x="211.90" y="261.32" width="17.00" height="20.20" fill="#eeb53e"/>
<rect x="211.90" y="252.60" width="17.00" height="8.71" fill="#94b35e"/>
<rect x="211.90" y="234.40" width="17.00" height="18.20" fill="#8e5230"/>
<text x="52.60" y="237.00" text-anchor="end">100</text>
<line x1="52.80" y1="234.40" x2="55.00" y2="234.40" stroke="#333" stroke-width="0.7"/>
<text x="52.60" y="264.75" text-anchor="end">50</text>
<line x1="52.80" y1="262.15" x2="55.00" y2="262.15" stroke="#333" stroke-width="0.7"/>
<text x="52.60" y="292.50" text-anchor="end">0</text>
<line x1="52.80" y1="289.90" x2="55.00" y2="289.90" stroke="#333" stroke-width="0.7"/>
<text x="23.20" y="260.20" text-anchor="middle" transform="rotate(-90 23.20 260.20)">Percentage of</text>
<text x="31.70" y="260.20" text-anchor="middle" transform="rotate(-90 31.70 260.20)">samples (%)</text>
<rect x="2.90" y="294.70" width="50.50" height="47.60" fill="#f9f9f9"/>
<rect x="53.40" y="294.70" width="178.00" height="47.60" fill="#ffffff"/>
<line x1="54.40" y1="303.80" x2="230.40" y2="303.80" stroke="#d8d8d8" stroke-width="0.6" stroke-dasharray="2,2.5"/>
<line x1="54.40" y1="322.10" x2="230.40" y2="322.10" stroke="#d8d8d8" stroke-width="0.6" stroke-dasharray="2,2.5"/>
<rect x="56.30" y="305.90" width="17.00" height="34.50" fill="#7e2660"/>
<rect x="75.75" y="319.08" width="17.00" height="21.32" fill="#7e2660"/>
<rect x="95.20" y="298.86" width="17.00" height="41.54" fill="#7e2660"/>
<rect x="114.65" y="316.61" width="17.00" height="23.79" fill="#7e2660"/>
<rect x="134.10" y="308.83" width="17.00" height="31.57" fill="#7e2660"/>
<rect x="153.55" y="296.94" width="17.00" height="43.46" fill="#7e2660"/>
<rect x="173.00" y="326.67" width="17.00" height="13.72" fill="#7e2660"/>
<rect x="192.45" y="303.80" width="17.00" height="36.60" fill="#7e2660"/>
<rect x="211.90" y="322.10" width="17.00" height="18.30" fill="#7e2660"/>
<line x1="54.40" y1="340.40" x2="230.40" y2="340.40" stroke="#111" stroke-width="0.9" stroke-dasharray="3,2"/>
<rect x="2.90" y="294.70" width="228.50" height="47.60" fill="none" stroke="#444" stroke-width="1.1"/>
<line x1="53.40" y1="294.70" x2="53.40" y2="342.30" stroke="#444" stroke-width="1.1"/>
<text x="233.80" y="306.90">0.4</text>
<text x="233.80" y="325.20">0.2</text>
<text x="233.80" y="343.50">0</text>
<text x="27.90" y="313.10" text-anchor="middle">Glycolytic</text>
<text x="27.90" y="321.90" text-anchor="middle">exp. vs. Moffitt</text>
<text x="27.90" y="330.60" text-anchor="middle">basal-like exp.</text>
<rect x="2.90" y="343.60" width="50.50" height="48.00" fill="#f9f9f9"/>
<rect x="53.40" y="343.60" width="178.00" height="48.00" fill="#ffffff"/>
<line x1="54.40" y1="357.70" x2="230.40" y2="357.70" stroke="#d8d8d8" stroke-width="0.6" stroke-dasharray="2,2.5"/>
<line x1="54.40" y1="380.70" x2="230.40" y2="380.70" stroke="#d8d8d8" stroke-width="0.6" stroke-dasharray="2,2.5"/>
<rect x="56.30" y="369.20" width="17.00" height="20.12" fill="#8088bb"/>
<rect x="75.75" y="369.20" width="17.00" height="14.14" fill="#8088bb"/>
<rect x="95.20" y="369.20" width="17.00" height="2.07" fill="#9a9a9c"/>
<rect x="114.65" y="369.20" width="17.00" height="11.50" fill="#9a9a9c"/>
<rect x="134.10" y="360.23" width="17.00" height="8.97" fill="#9a9a9c"/>
<rect x="153.55" y="361.95" width="17.00" height="7.25" fill="#9a9a9c"/>
<rect x="173.00" y="354.94" width="17.00" height="14.26" fill="#7e2660"/>
<rect x="192.45" y="346.20" width="17.00" height="23.00" fill="#7e2660"/>
<rect x="211.90" y="356.66" width="17.00" height="12.54" fill="#7e2660"/>
<line x1="54.40" y1="369.20" x2="230.40" y2="369.20" stroke="#111" stroke-width="0.9" stroke-dasharray="3,2"/>
<rect x="2.90" y="343.60" width="228.50" height="48.00" fill="none" stroke="#444" stroke-width="1.1"/>
<line x1="53.40" y1="343.60" x2="53.40" y2="391.60" stroke="#444" stroke-width="1.1"/>
<text x="233.80" y="360.80">0.1</text>
<text x="233.80" y="372.30">0</text>
<text x="233.80" y="383.80">-0.1</text>
<text x="27.90" y="363.60" text-anchor="middle">Glycolytic</text>
<text x="27.90" y="372.20" text-anchor="middle">exp. vs.</text>
<text x="27.9" y="381.10" text-anchor="middle"><tspan font-style="italic">KRAS</tspan> exp.</text>
<rect x="2.90" y="392.60" width="50.50" height="47.60" fill="#f9f9f9"/>
<rect x="53.40" y="392.60" width="178.00" height="47.60" fill="#ffffff"/>
<line x1="54.40" y1="408.30" x2="230.40" y2="408.30" stroke="#d8d8d8" stroke-width="0.6" stroke-dasharray="2,2.5"/>
<line x1="54.40" y1="438.70" x2="230.40" y2="438.70" stroke="#d8d8d8" stroke-width="0.6" stroke-dasharray="2,2.5"/>
<rect x="56.30" y="407.92" width="17.00" height="15.58" fill="#7e2660"/>
<rect x="75.75" y="414.38" width="17.00" height="9.12" fill="#7e2660"/>
<rect x="95.20" y="415.90" width="17.00" height="7.60" fill="#9a9a9c"/>
<rect x="114.65" y="421.98" width="17.00" height="1.52" fill="#9a9a9c"/>
<rect x="134.10" y="406.40" width="17.00" height="17.10" fill="#7e2660"/>
<rect x="153.55" y="395.38" width="17.00" height="28.12" fill="#7e2660"/>
<rect x="173.00" y="423.50" width="17.00" height="14.44" fill="#8088bb"/>
<rect x="192.45" y="423.50" width="17.00" height="6.84" fill="#9a9a9c"/>
<rect x="211.90" y="409.82" width="17.00" height="13.68" fill="#7e2660"/>
<line x1="54.40" y1="423.50" x2="230.40" y2="423.50" stroke="#111" stroke-width="0.9" stroke-dasharray="3,2"/>
<rect x="2.90" y="392.60" width="228.50" height="47.60" fill="none" stroke="#444" stroke-width="1.1"/>
<line x1="53.40" y1="392.60" x2="53.40" y2="440.20" stroke="#444" stroke-width="1.1"/>
<text x="233.80" y="411.40">0.2</text>
<text x="233.80" y="426.60">0</text>
<text x="233.80" y="441.80">-2</text>
<text x="27.90" y="409.60" text-anchor="middle">Glycolytic</text>
<text x="27.90" y="418.60" text-anchor="middle">exp. vs.</text>
<text x="27.9" y="427.40" text-anchor="middle"><tspan font-style="italic">MYC</tspan> exp.</text>
<rect x="2.90" y="451.40" width="50.50" height="47.60" fill="#f9f9f9"/>
<rect x="53.40" y="451.40" width="178.00" height="47.60" fill="#ffffff"/>
<line x1="54.40" y1="476.90" x2="230.40" y2="476.90" stroke="#d8d8d8" stroke-width="0.6" stroke-dasharray="2,2.5"/>
<line x1="54.40" y1="496.30" x2="230.40" y2="496.30" stroke="#d8d8d8" stroke-width="0.6" stroke-dasharray="2,2.5"/>
<rect x="56.30" y="457.50" width="17.00" height="23.28" fill="#9a9a9c"/>
<rect x="75.75" y="457.50" width="17.00" height="19.40" fill="#8088bb"/>
<rect x="95.20" y="457.50" width="17.00" height="16.49" fill="#9a9a9c"/>
<rect x="114.65" y="453.13" width="17.00" height="4.37" fill="#9a9a9c"/>
<rect x="134.10" y="457.50" width="17.00" height="38.80" fill="#8088bb"/>
<rect x="153.55" y="457.50" width="17.00" height="11.64" fill="#9a9a9c"/>
<rect x="173.00" y="457.50" width="17.00" height="4.37" fill="#9a9a9c"/>
<rect x="192.45" y="457.50" width="17.00" height="19.40" fill="#9a9a9c"/>
<rect x="211.90" y="457.50" width="17.00" height="38.80" fill="#8088bb"/>
<line x1="54.40" y1="457.50" x2="230.40" y2="457.50" stroke="#111" stroke-width="0.9" stroke-dasharray="3,2"/>
<rect x="2.90" y="451.40" width="228.50" height="47.60" fill="none" stroke="#444" stroke-width="1.1"/>
<line x1="53.40" y1="451.40" x2="53.40" y2="499.00" stroke="#444" stroke-width="1.1"/>
<text x="233.80" y="460.60">0</text>
<text x="233.80" y="480.00">-0.2</text>
<text x="233.80" y="499.40">-0.4</text>
<text x="27.9" y="469.60" text-anchor="middle"><tspan font-style="italic">MPC1</tspan> exp.</text>
<text x="27.90" y="478.40" text-anchor="middle">in glycolytic</text>
<text x="27.90" y="487.00" text-anchor="middle">group vs. rest</text>
<rect x="2.90" y="499.80" width="50.50" height="48.20" fill="#f9f9f9"/>
<rect x="53.40" y="499.80" width="178.00" height="48.20" fill="#ffffff"/>
<line x1="54.40" y1="524.60" x2="230.40" y2="524.60" stroke="#d8d8d8" stroke-width="0.6" stroke-dasharray="2,2.5"/>
<line x1="54.40" y1="536.60" x2="230.40" y2="536.60" stroke="#d8d8d8" stroke-width="0.6" stroke-dasharray="2,2.5"/>
<rect x="56.30" y="512.60" width="17.00" height="5.10" fill="#9a9a9c"/>
<rect x="75.75" y="512.60" width="17.00" height="0.00" fill="#9a9a9c"/>
<rect x="95.20" y="512.60" width="17.00" height="13.80" fill="#9a9a9c"/>
<rect x="114.65" y="512.60" width="17.00" height="5.40" fill="#9a9a9c"/>
<rect x="134.10" y="512.60" width="17.00" height="33.60" fill="#8088bb"/>
<rect x="153.55" y="512.60" width="17.00" height="21.00" fill="#8088bb"/>
<rect x="173.00" y="503.00" width="17.00" height="9.60" fill="#7e2660"/>
<rect x="192.45" y="512.60" width="17.00" height="29.40" fill="#8088bb"/>
<rect x="211.90" y="512.60" width="17.00" height="1.80" fill="#9a9a9c"/>
<line x1="54.40" y1="512.60" x2="230.40" y2="512.60" stroke="#111" stroke-width="0.9" stroke-dasharray="3,2"/>
<rect x="2.90" y="499.80" width="228.50" height="48.20" fill="none" stroke="#444" stroke-width="1.1"/>
<line x1="53.40" y1="499.80" x2="53.40" y2="548.00" stroke="#444" stroke-width="1.1"/>
<text x="233.80" y="515.70">0</text>
<text x="233.80" y="527.70">-0.2</text>
<text x="233.80" y="539.70">-0.4</text>
<text x="27.9" y="515.60" text-anchor="middle"><tspan font-style="italic">MPC2</tspan> exp.</text>
<text x="27.90" y="524.40" text-anchor="middle">in glycolytic</text>
<text x="27.90" y="533.10" text-anchor="middle">group vs. rest</text>
<text x="258.00" y="365.50" text-anchor="middle" transform="rotate(90 258.00 365.50)">Correlation (ρ)</text>
<text x="266.00" y="500.00" text-anchor="middle" transform="rotate(90 266.00 500.00)">Mean expression in</text>
<text x="257.20" y="500.00" text-anchor="middle" transform="rotate(90 257.20 500.00)">glycolytic group (Z-score)</text>
<text x="68.40" y="555.40" text-anchor="end" transform="rotate(-45 68.40 555.40)">GBM</text>
<text x="87.85" y="555.40" text-anchor="end" transform="rotate(-45 87.85 555.40)">HNSC</text>
<text x="107.30" y="555.40" text-anchor="end" transform="rotate(-45 107.30 555.40)">LIHC</text>
<text x="126.75" y="555.40" text-anchor="end" transform="rotate(-45 126.75 555.40)">OV</text>
<text x="146.20" y="555.40" text-anchor="end" transform="rotate(-45 146.20 555.40)">LUAD</text>
<text x="165.65" y="555.40" text-anchor="end" transform="rotate(-45 165.65 555.40)">BLCA</text>
<text x="185.10" y="555.40" text-anchor="end" transform="rotate(-45 185.10 555.40)">LGG</text>
<text x="204.55" y="555.40" text-anchor="end" transform="rotate(-45 204.55 555.40)">COAD</text>
<text x="224.00" y="555.40" text-anchor="end" transform="rotate(-45 224.00 555.40)">LUSC</text>
<text x="289.00" y="199.90" font-size="13" font-weight="bold" fill="#000">C</text>
<line x1="326.50" y1="211.30" x2="335.10" y2="211.30" stroke="#8e5230" stroke-width="2.6"/>
<text x="336.60" y="213.80">Mixed</text>
<line x1="326.50" y1="220.30" x2="335.10" y2="220.30" stroke="#56a0b5" stroke-width="2.6"/>
<text x="336.60" y="222.80">Glycolytic</text>
<line x1="373.80" y1="211.30" x2="382.40" y2="211.30" stroke="#94b35e" stroke-width="2.6"/>
<text x="383.80" y="213.80">Cholesterogenic</text>
<line x1="373.80" y1="220.30" x2="382.40" y2="220.30" stroke="#eeb53e" stroke-width="2.6"/>
<text x="383.80" y="222.80">Quiescent</text>
<rect x="324.60" y="229.30" width="191.20" height="11.20" fill="#f5f5f5" stroke="#333" stroke-width="1.0"/>
<text x="421.00" y="237.90" font-size="8.3" text-anchor="middle">LGG</text>
<line x1="327.80" y1="241.00" x2="327.80" y2="336.20" stroke="#e2e2e2" stroke-width="0.6" stroke-dasharray="2,2.5"/>
<line x1="348.65" y1="241.00" x2="348.65" y2="336.20" stroke="#e2e2e2" stroke-width="0.6" stroke-dasharray="2,2.5"/>
<line x1="369.50" y1="241.00" x2="369.50" y2="336.20" stroke="#e2e2e2" stroke-width="0.6" stroke-dasharray="2,2.5"/>
<line x1="390.35" y1="241.00" x2="390.35" y2="336.20" stroke="#e2e2e2" stroke-width="0.6" stroke-dasharray="2,2.5"/>
<line x1="411.20" y1="241.00" x2="411.20" y2="336.20" stroke="#e2e2e2" stroke-width="0.6" stroke-dasharray="2,2.5"/>
<line x1="432.04" y1="241.00" x2="432.04" y2="336.20" stroke="#e2e2e2" stroke-width="0.6" stroke-dasharray="2,2.5"/>
<line x1="452.89" y1="241.00" x2="452.89" y2="336.20" stroke="#e2e2e2" stroke-width="0.6" stroke-dasharray="2,2.5"/>
<line x1="473.74" y1="241.00" x2="473.74" y2="336.20" stroke="#e2e2e2" stroke-width="0.6" stroke-dasharray="2,2.5"/>
<line x1="494.59" y1="241.00" x2="494.59" y2="336.20" stroke="#e2e2e2" stroke-width="0.6" stroke-dasharray="2,2.5"/>
<line x1="325.10" y1="330.70" x2="515.30" y2="330.70" stroke="#e2e2e2" stroke-width="0.6" stroke-dasharray="2,2.5"/>
<line x1="325.10" y1="309.18" x2="515.30" y2="309.18" stroke="#e2e2e2" stroke-width="0.6" stroke-dasharray="2,2.5"/>
<line x1="325.10" y1="287.65" x2="515.30" y2="287.65" stroke="#e2e2e2" stroke-width="0.6" stroke-dasharray="2,2.5"/>
<line x1="325.10" y1="266.12" x2="515.30" y2="266.12" stroke="#e2e2e2" stroke-width="0.6" stroke-dasharray="2,2.5"/>
<line x1="325.10" y1="244.60" x2="515.30" y2="244.60" stroke="#e2e2e2" stroke-width="0.6" stroke-dasharray="2,2.5"/>
<path d="M327.80,244.60H330.41V245.89H333.01V246.75H335.62V248.04H338.22V248.91H341.70V249.77H345.17V250.37H349.52V251.06H352.99V251.92H354.30V254.50H381.66V263.97H396.43V281.19H455.50V305.73H462.45V305.73" fill="none" stroke="#8e5230" stroke-width="1.9"/>
<path d="M327.80,244.60H331.27V247.18H334.75V248.91H337.36V250.37H340.83V253.21H345.17V255.02H349.52V257.26H354.73V260.10H356.47V261.30H366.89V267.85H371.24V273.01H411.20V292.82H487.64V292.82" fill="none" stroke="#94b35e" stroke-width="1.9"/>
<path d="M327.80,244.60H331.27V247.18H334.75V250.63H338.22V254.07H343.44V257.51H350.39V260.18H356.47V262.51H361.68V264.23H365.15V266.47H367.76V268.79H371.24V270.60H375.58V273.53H379.05V275.77H381.66V278.09H384.27V282.74H387.74V285.07H390.35V287.31H394.69V287.48H397.30V289.37H403.38V291.27H417.28V292.47H425.09V297.47H430.31V302.46H432.91V306.25H443.34V306.25H445.94V311.24H454.63V316.24H514.57V316.24" fill="none" stroke="#56a0b5" stroke-width="1.9"/>
<path d="M327.80,244.60H330.41V247.18H333.01V249.77H335.62V253.21H339.09V255.79H342.57V258.38H346.04V261.82H349.52V264.40H352.12V266.47H354.30V270.00H357.34V273.53H361.68V275.77H366.02V279.21H370.80V281.54H375.58V283.78H379.92V285.07H382.96V288.51H385.13V290.66H387.74V293.07H389.91V296.26H392.52V298.41H409.46V310.04H441.60V310.04H442.47V320.02H444.21V325.53H445.07V330.27" fill="none" stroke="#eeb53e" stroke-width="1.9"/>
<path d="M328.30,244.80 L337.30,248.60" stroke="#5e4c26" stroke-width="2.6" stroke-linecap="round" opacity="0.8"/>
<line x1="324.60" y1="240.50" x2="324.60" y2="335.70" stroke="#333" stroke-width="1.0"/>
<line x1="515.80" y1="240.50" x2="515.80" y2="335.70" stroke="#333" stroke-width="1.0"/>
<line x1="324.60" y1="335.70" x2="515.80" y2="335.70" stroke="#333" stroke-width="1.0"/>
<text x="322.00" y="333.30" text-anchor="end">0</text>
<line x1="322.80" y1="330.70" x2="324.60" y2="330.70" stroke="#333" stroke-width="0.7"/>
<text x="322.00" y="311.78" text-anchor="end">25</text>
<line x1="322.80" y1="309.18" x2="324.60" y2="309.18" stroke="#333" stroke-width="0.7"/>
<text x="322.00" y="290.25" text-anchor="end">50</text>
<line x1="322.80" y1="287.65" x2="324.60" y2="287.65" stroke="#333" stroke-width="0.7"/>
<text x="322.00" y="268.73" text-anchor="end">75</text>
<line x1="322.80" y1="266.12" x2="324.60" y2="266.12" stroke="#333" stroke-width="0.7"/>
<text x="322.00" y="247.20" text-anchor="end">100</text>
<line x1="322.80" y1="244.60" x2="324.60" y2="244.60" stroke="#333" stroke-width="0.7"/>
<line x1="327.80" y1="335.70" x2="327.80" y2="337.50" stroke="#333" stroke-width="0.7"/>
<text x="327.80" y="344.10" text-anchor="middle">0</text>
<line x1="348.65" y1="335.70" x2="348.65" y2="337.50" stroke="#333" stroke-width="0.7"/>
<text x="348.65" y="344.10" text-anchor="middle">24</text>
<line x1="369.50" y1="335.70" x2="369.50" y2="337.50" stroke="#333" stroke-width="0.7"/>
<text x="369.50" y="344.10" text-anchor="middle">48</text>
<line x1="390.35" y1="335.70" x2="390.35" y2="337.50" stroke="#333" stroke-width="0.7"/>
<text x="390.35" y="344.10" text-anchor="middle">72</text>
<line x1="411.20" y1="335.70" x2="411.20" y2="337.50" stroke="#333" stroke-width="0.7"/>
<text x="411.20" y="344.10" text-anchor="middle">96</text>
<line x1="432.04" y1="335.70" x2="432.04" y2="337.50" stroke="#333" stroke-width="0.7"/>
<text x="432.04" y="344.10" text-anchor="middle">120</text>
<line x1="452.89" y1="335.70" x2="452.89" y2="337.50" stroke="#333" stroke-width="0.7"/>
<text x="452.89" y="344.10" text-anchor="middle">144</text>
<line x1="473.74" y1="335.70" x2="473.74" y2="337.50" stroke="#333" stroke-width="0.7"/>
<text x="473.74" y="344.10" text-anchor="middle">168</text>
<line x1="494.59" y1="335.70" x2="494.59" y2="337.50" stroke="#333" stroke-width="0.7"/>
<text x="494.59" y="344.10" text-anchor="middle">192</text>
<text x="303.60" y="283.50" text-anchor="middle" transform="rotate(-90 303.60 283.50)">Percentage of patients alive (%)</text>
<text x="330.20" y="329.10"><tspan font-style="italic">P</tspan> = 0.0076</text>
<line x1="478.80" y1="245.60" x2="487.20" y2="245.60" stroke="#8e5230" stroke-width="2.4"/>
<text x="490.20" y="248.10"><tspan font-style="italic">n</tspan> = 111</text>
<line x1="478.80" y1="252.55" x2="487.20" y2="252.55" stroke="#94b35e" stroke-width="2.4"/>
<text x="490.20" y="255.05"><tspan font-style="italic">n</tspan> = 92</text>
<line x1="478.80" y1="259.50" x2="487.20" y2="259.50" stroke="#56a0b5" stroke-width="2.4"/>
<text x="490.20" y="262.00"><tspan font-style="italic">n</tspan> = 90</text>
<line x1="478.80" y1="266.45" x2="487.20" y2="266.45" stroke="#eeb53e" stroke-width="2.4"/>
<text x="490.20" y="268.95"><tspan font-style="italic">n</tspan> = 163</text>
<rect x="321.20" y="357.90" width="194.60" height="31.20" fill="none" stroke="#333" stroke-width="1.0"/>
<line x1="305.40" y1="362.50" x2="318.60" y2="362.50" stroke="#eeb53e" stroke-width="2.7"/>
<text x="328.10" y="365.50" font-size="7.0" text-anchor="middle">163</text>
<text x="348.95" y="365.50" font-size="7.0" text-anchor="middle">56</text>
<text x="369.80" y="365.50" font-size="7.0" text-anchor="middle">25</text>
<text x="390.65" y="365.50" font-size="7.0" text-anchor="middle">13</text>
<text x="411.50" y="365.50" font-size="7.0" text-anchor="middle">3</text>
<text x="432.34" y="365.50" font-size="7.0" text-anchor="middle">3</text>
<text x="453.19" y="365.50" font-size="7.0" text-anchor="middle">0</text>
<text x="474.04" y="365.50" font-size="7.0" text-anchor="middle">0</text>
<text x="494.89" y="365.50" font-size="7.0" text-anchor="middle">0</text>
<line x1="305.40" y1="369.00" x2="318.60" y2="369.00" stroke="#56a0b5" stroke-width="2.7"/>
<text x="328.10" y="372.00" font-size="7.0" text-anchor="middle">90</text>
<text x="348.95" y="372.00" font-size="7.0" text-anchor="middle">34</text>
<text x="369.80" y="372.00" font-size="7.0" text-anchor="middle">19</text>
<text x="390.65" y="372.00" font-size="7.0" text-anchor="middle">12</text>
<text x="411.50" y="372.00" font-size="7.0" text-anchor="middle">9</text>
<text x="432.34" y="372.00" font-size="7.0" text-anchor="middle">5</text>
<text x="453.19" y="372.00" font-size="7.0" text-anchor="middle">4</text>
<text x="474.04" y="372.00" font-size="7.0" text-anchor="middle">1</text>
<text x="494.89" y="372.00" font-size="7.0" text-anchor="middle">1</text>
<line x1="305.40" y1="375.50" x2="318.60" y2="375.50" stroke="#94b35e" stroke-width="2.7"/>
<text x="328.10" y="378.50" font-size="7.0" text-anchor="middle">92</text>
<text x="348.95" y="378.50" font-size="7.0" text-anchor="middle">30</text>
<text x="369.80" y="378.50" font-size="7.0" text-anchor="middle">12</text>
<text x="390.65" y="378.50" font-size="7.0" text-anchor="middle">9</text>
<text x="411.50" y="378.50" font-size="7.0" text-anchor="middle">3</text>
<text x="432.34" y="378.50" font-size="7.0" text-anchor="middle">2</text>
<text x="453.19" y="378.50" font-size="7.0" text-anchor="middle">1</text>
<text x="474.04" y="378.50" font-size="7.0" text-anchor="middle">1</text>
<text x="494.89" y="378.50" font-size="7.0" text-anchor="middle">0</text>
<line x1="305.40" y1="382.00" x2="318.60" y2="382.00" stroke="#8e5230" stroke-width="2.7"/>
<text x="328.10" y="385.00" font-size="7.0" text-anchor="middle">111</text>
<text x="348.95" y="385.00" font-size="7.0" text-anchor="middle">36</text>
<text x="369.80" y="385.00" font-size="7.0" text-anchor="middle">17</text>
<text x="390.65" y="385.00" font-size="7.0" text-anchor="middle">6</text>
<text x="411.50" y="385.00" font-size="7.0" text-anchor="middle">3</text>
<text x="432.34" y="385.00" font-size="7.0" text-anchor="middle">2</text>
<text x="453.19" y="385.00" font-size="7.0" text-anchor="middle">2</text>
<text x="474.04" y="385.00" font-size="7.0" text-anchor="middle">0</text>
<text x="494.89" y="385.00" font-size="7.0" text-anchor="middle">0</text>
<text x="423.00" y="398.60" font-size="7.55" text-anchor="middle">Time (months)</text>
<text x="307.80" y="356.90">Number at risk</text>
<rect x="324.60" y="404.40" width="191.70" height="11.20" fill="#f5f5f5" stroke="#333" stroke-width="1.0"/>
<text x="421.25" y="413.00" font-size="8.3" text-anchor="middle">LIHC</text>
<line x1="329.50" y1="416.10" x2="329.50" y2="511.30" stroke="#e2e2e2" stroke-width="0.6" stroke-dasharray="2,2.5"/>
<line x1="347.95" y1="416.10" x2="347.95" y2="511.30" stroke="#e2e2e2" stroke-width="0.6" stroke-dasharray="2,2.5"/>
<line x1="366.40" y1="416.10" x2="366.40" y2="511.30" stroke="#e2e2e2" stroke-width="0.6" stroke-dasharray="2,2.5"/>
<line x1="384.85" y1="416.10" x2="384.85" y2="511.30" stroke="#e2e2e2" stroke-width="0.6" stroke-dasharray="2,2.5"/>
<line x1="403.30" y1="416.10" x2="403.30" y2="511.30" stroke="#e2e2e2" stroke-width="0.6" stroke-dasharray="2,2.5"/>
<line x1="421.75" y1="416.10" x2="421.75" y2="511.30" stroke="#e2e2e2" stroke-width="0.6" stroke-dasharray="2,2.5"/>
<line x1="440.20" y1="416.10" x2="440.20" y2="511.30" stroke="#e2e2e2" stroke-width="0.6" stroke-dasharray="2,2.5"/>
<line x1="458.65" y1="416.10" x2="458.65" y2="511.30" stroke="#e2e2e2" stroke-width="0.6" stroke-dasharray="2,2.5"/>
<line x1="477.10" y1="416.10" x2="477.10" y2="511.30" stroke="#e2e2e2" stroke-width="0.6" stroke-dasharray="2,2.5"/>
<line x1="495.55" y1="416.10" x2="495.55" y2="511.30" stroke="#e2e2e2" stroke-width="0.6" stroke-dasharray="2,2.5"/>
<line x1="514.00" y1="416.10" x2="514.00" y2="511.30" stroke="#e2e2e2" stroke-width="0.6" stroke-dasharray="2,2.5"/>
<line x1="325.10" y1="505.80" x2="515.80" y2="505.80" stroke="#e2e2e2" stroke-width="0.6" stroke-dasharray="2,2.5"/>
<line x1="325.10" y1="484.35" x2="515.80" y2="484.35" stroke="#e2e2e2" stroke-width="0.6" stroke-dasharray="2,2.5"/>
<line x1="325.10" y1="462.90" x2="515.80" y2="462.90" stroke="#e2e2e2" stroke-width="0.6" stroke-dasharray="2,2.5"/>
<line x1="325.10" y1="441.45" x2="515.80" y2="441.45" stroke="#e2e2e2" stroke-width="0.6" stroke-dasharray="2,2.5"/>
<line x1="325.10" y1="420.00" x2="515.80" y2="420.00" stroke="#e2e2e2" stroke-width="0.6" stroke-dasharray="2,2.5"/>
<path d="M329.50,420.00H335.65V421.29H340.26V422.66H346.41V423.78H355.64V424.98H360.25V426.18H364.86V429.61H367.94V434.24H369.94V437.16H387.31V441.19H411.30V446.25H420.06V452.00H453.73V470.02H457.57V487.52H472.95V487.52" fill="none" stroke="#eeb53e" stroke-width="1.9"/>
<path d="M329.50,420.00H334.11V421.29H337.65V422.66H346.87V424.98H353.79V427.29H357.18V429.44H360.87V431.93H365.32V436.47H372.24V441.19H379.16V443.51H384.85V445.74H407.45V450.03H414.99V455.52H436.20V463.76H452.50V470.02H456.19V484.52H486.33V505.54" fill="none" stroke="#94b35e" stroke-width="1.9"/>
<path d="M329.50,420.00H332.57V421.72H335.34V423.78H339.95V427.29H344.57V429.61H349.18V434.24H351.49V438.79H356.25V441.19H360.87V443.51H365.32V448.14H372.24V452.69H379.16V455.01H386.23V456.21H388.54V460.84H393.00V461.87H397.76V464.19H400.07V470.02H403.76V472.51H406.38V473.71H436.20V479.46H492.48V492.50H514.46V492.50" fill="none" stroke="#56a0b5" stroke-width="1.9"/>
<path d="M329.50,420.00H334.11V422.57H337.65V424.98H341.19V429.61H342.26V435.44H346.87V437.67H349.18V441.19H353.79V445.83H356.25V450.37H358.56V452.18H367.63V452.69H372.24V456.21H388.54V457.32H395.00V461.87H397.15V464.96H398.69V471.22H401.30V473.02H414.99V479.46H484.48V479.46" fill="none" stroke="#8e5230" stroke-width="1.9"/>
<path d="M330.00,420.20 L339.00,424.00" stroke="#5e4c26" stroke-width="2.6" stroke-linecap="round" opacity="0.8"/>
<line x1="324.60" y1="415.60" x2="324.60" y2="510.80" stroke="#333" stroke-width="1.0"/>
<line x1="516.30" y1="415.60" x2="516.30" y2="510.80" stroke="#333" stroke-width="1.0"/>
<line x1="324.60" y1="510.80" x2="516.30" y2="510.80" stroke="#333" stroke-width="1.0"/>
<text x="322.00" y="508.40" text-anchor="end">0</text>
<line x1="322.80" y1="505.80" x2="324.60" y2="505.80" stroke="#333" stroke-width="0.7"/>
<text x="322.00" y="486.95" text-anchor="end">25</text>
<line x1="322.80" y1="484.35" x2="324.60" y2="484.35" stroke="#333" stroke-width="0.7"/>
<text x="322.00" y="465.50" text-anchor="end">50</text>
<line x1="322.80" y1="462.90" x2="324.60" y2="462.90" stroke="#333" stroke-width="0.7"/>
<text x="322.00" y="444.05" text-anchor="end">75</text>
<line x1="322.80" y1="441.45" x2="324.60" y2="441.45" stroke="#333" stroke-width="0.7"/>
<text x="322.00" y="422.60" text-anchor="end">100</text>
<line x1="322.80" y1="420.00" x2="324.60" y2="420.00" stroke="#333" stroke-width="0.7"/>
<line x1="329.50" y1="510.80" x2="329.50" y2="512.60" stroke="#333" stroke-width="0.7"/>
<text x="329.50" y="519.20" text-anchor="middle">0</text>
<line x1="347.95" y1="510.80" x2="347.95" y2="512.60" stroke="#333" stroke-width="0.7"/>
<text x="347.95" y="519.20" text-anchor="middle">12</text>
<line x1="366.40" y1="510.80" x2="366.40" y2="512.60" stroke="#333" stroke-width="0.7"/>
<text x="366.40" y="519.20" text-anchor="middle">24</text>
<line x1="384.85" y1="510.80" x2="384.85" y2="512.60" stroke="#333" stroke-width="0.7"/>
<text x="384.85" y="519.20" text-anchor="middle">36</text>
<line x1="403.30" y1="510.80" x2="403.30" y2="512.60" stroke="#333" stroke-width="0.7"/>
<text x="403.30" y="519.20" text-anchor="middle">48</text>
<line x1="421.75" y1="510.80" x2="421.75" y2="512.60" stroke="#333" stroke-width="0.7"/>
<text x="421.75" y="519.20" text-anchor="middle">60</text>
<line x1="440.20" y1="510.80" x2="440.20" y2="512.60" stroke="#333" stroke-width="0.7"/>
<text x="440.20" y="519.20" text-anchor="middle">72</text>
<line x1="458.65" y1="510.80" x2="458.65" y2="512.60" stroke="#333" stroke-width="0.7"/>
<text x="458.65" y="519.20" text-anchor="middle">84</text>
<line x1="477.10" y1="510.80" x2="477.10" y2="512.60" stroke="#333" stroke-width="0.7"/>
<text x="477.10" y="519.20" text-anchor="middle">96</text>
<line x1="495.55" y1="510.80" x2="495.55" y2="512.60" stroke="#333" stroke-width="0.7"/>
<text x="495.55" y="519.20" text-anchor="middle">108</text>
<line x1="514.00" y1="510.80" x2="514.00" y2="512.60" stroke="#333" stroke-width="0.7"/>
<text x="514.00" y="519.20" text-anchor="middle">120</text>
<text x="303.60" y="458.60" text-anchor="middle" transform="rotate(-90 303.60 458.60)">Percentage of patients alive (%)</text>
<text x="330.20" y="504.20"><tspan font-style="italic">P</tspan> = 0.018</text>
<line x1="478.80" y1="421.00" x2="487.20" y2="421.00" stroke="#8e5230" stroke-width="2.4"/>
<text x="490.70" y="423.50"><tspan font-style="italic">n</tspan> = 45</text>
<line x1="478.80" y1="427.95" x2="487.20" y2="427.95" stroke="#94b35e" stroke-width="2.4"/>
<text x="490.70" y="430.45"><tspan font-style="italic">n</tspan> = 109</text>
<line x1="478.80" y1="434.90" x2="487.20" y2="434.90" stroke="#56a0b5" stroke-width="2.4"/>
<text x="490.70" y="437.40"><tspan font-style="italic">n</tspan> = 64</text>
<line x1="478.80" y1="441.85" x2="487.20" y2="441.85" stroke="#eeb53e" stroke-width="2.4"/>
<text x="490.70" y="444.35"><tspan font-style="italic">n</tspan> = 72</text>
<rect x="321.20" y="526.80" width="195.10" height="26.50" fill="none" stroke="#333" stroke-width="1.0"/>
<line x1="305.40" y1="531.40" x2="318.60" y2="531.40" stroke="#eeb53e" stroke-width="2.7"/>
<text x="329.10" y="534.40" font-size="7.0" text-anchor="middle">72</text>
<text x="347.55" y="534.40" font-size="7.0" text-anchor="middle">47</text>
<text x="366.00" y="534.40" font-size="7.0" text-anchor="middle">27</text>
<text x="384.45" y="534.40" font-size="7.0" text-anchor="middle">19</text>
<text x="402.90" y="534.40" font-size="7.0" text-anchor="middle">15</text>
<text x="421.35" y="534.40" font-size="7.0" text-anchor="middle">8</text>
<text x="439.80" y="534.40" font-size="7.0" text-anchor="middle">6</text>
<text x="458.25" y="534.40" font-size="7.0" text-anchor="middle">1</text>
<text x="476.70" y="534.40" font-size="7.0" text-anchor="middle">0</text>
<text x="495.15" y="534.40" font-size="7.0" text-anchor="middle">0</text>
<text x="513.60" y="534.40" font-size="7.0" text-anchor="middle">0</text>
<line x1="305.40" y1="537.90" x2="318.60" y2="537.90" stroke="#56a0b5" stroke-width="2.7"/>
<text x="329.10" y="540.90" font-size="7.0" text-anchor="middle">64</text>
<text x="347.55" y="540.90" font-size="7.0" text-anchor="middle">37</text>
<text x="366.00" y="540.90" font-size="7.0" text-anchor="middle">21</text>
<text x="384.45" y="540.90" font-size="7.0" text-anchor="middle">16</text>
<text x="402.90" y="540.90" font-size="7.0" text-anchor="middle">9</text>
<text x="421.35" y="540.90" font-size="7.0" text-anchor="middle">5</text>
<text x="439.80" y="540.90" font-size="7.0" text-anchor="middle">4</text>
<text x="458.25" y="540.90" font-size="7.0" text-anchor="middle">2</text>
<text x="476.70" y="540.90" font-size="7.0" text-anchor="middle">2</text>
<text x="495.15" y="540.90" font-size="7.0" text-anchor="middle">1</text>
<text x="513.60" y="540.90" font-size="7.0" text-anchor="middle">1</text>
<line x1="305.40" y1="544.40" x2="318.60" y2="544.40" stroke="#94b35e" stroke-width="2.7"/>
<text x="329.10" y="547.40" font-size="7.0" text-anchor="middle">109</text>
<text x="347.55" y="547.40" font-size="7.0" text-anchor="middle">70</text>
<text x="366.00" y="547.40" font-size="7.0" text-anchor="middle">44</text>
<text x="384.45" y="547.40" font-size="7.0" text-anchor="middle">31</text>
<text x="402.90" y="547.40" font-size="7.0" text-anchor="middle">21</text>
<text x="421.35" y="547.40" font-size="7.0" text-anchor="middle">11</text>
<text x="439.80" y="547.40" font-size="7.0" text-anchor="middle">4</text>
<text x="458.25" y="547.40" font-size="7.0" text-anchor="middle">1</text>
<text x="476.70" y="547.40" font-size="7.0" text-anchor="middle">1</text>
<text x="495.15" y="547.40" font-size="7.0" text-anchor="middle">0</text>
<text x="513.60" y="547.40" font-size="7.0" text-anchor="middle">0</text>
<line x1="305.40" y1="550.90" x2="318.60" y2="550.90" stroke="#8e5230" stroke-width="2.7"/>
<text x="329.10" y="553.90" font-size="7.0" text-anchor="middle">45</text>
<text x="347.55" y="553.90" font-size="7.0" text-anchor="middle">27</text>
<text x="366.00" y="553.90" font-size="7.0" text-anchor="middle">15</text>
<text x="384.45" y="553.90" font-size="7.0" text-anchor="middle">10</text>
<text x="402.90" y="553.90" font-size="7.0" text-anchor="middle">6</text>
<text x="421.35" y="553.90" font-size="7.0" text-anchor="middle">3</text>
<text x="439.80" y="553.90" font-size="7.0" text-anchor="middle">1</text>
<text x="458.25" y="553.90" font-size="7.0" text-anchor="middle">1</text>
<text x="476.70" y="553.90" font-size="7.0" text-anchor="middle">1</text>
<text x="495.15" y="553.90" font-size="7.0" text-anchor="middle">0</text>
<text x="513.60" y="553.90" font-size="7.0" text-anchor="middle">0</text>
<text x="423.00" y="563.00" font-size="7.55" text-anchor="middle">Time (months)</text>
</svg>
</body></html>
